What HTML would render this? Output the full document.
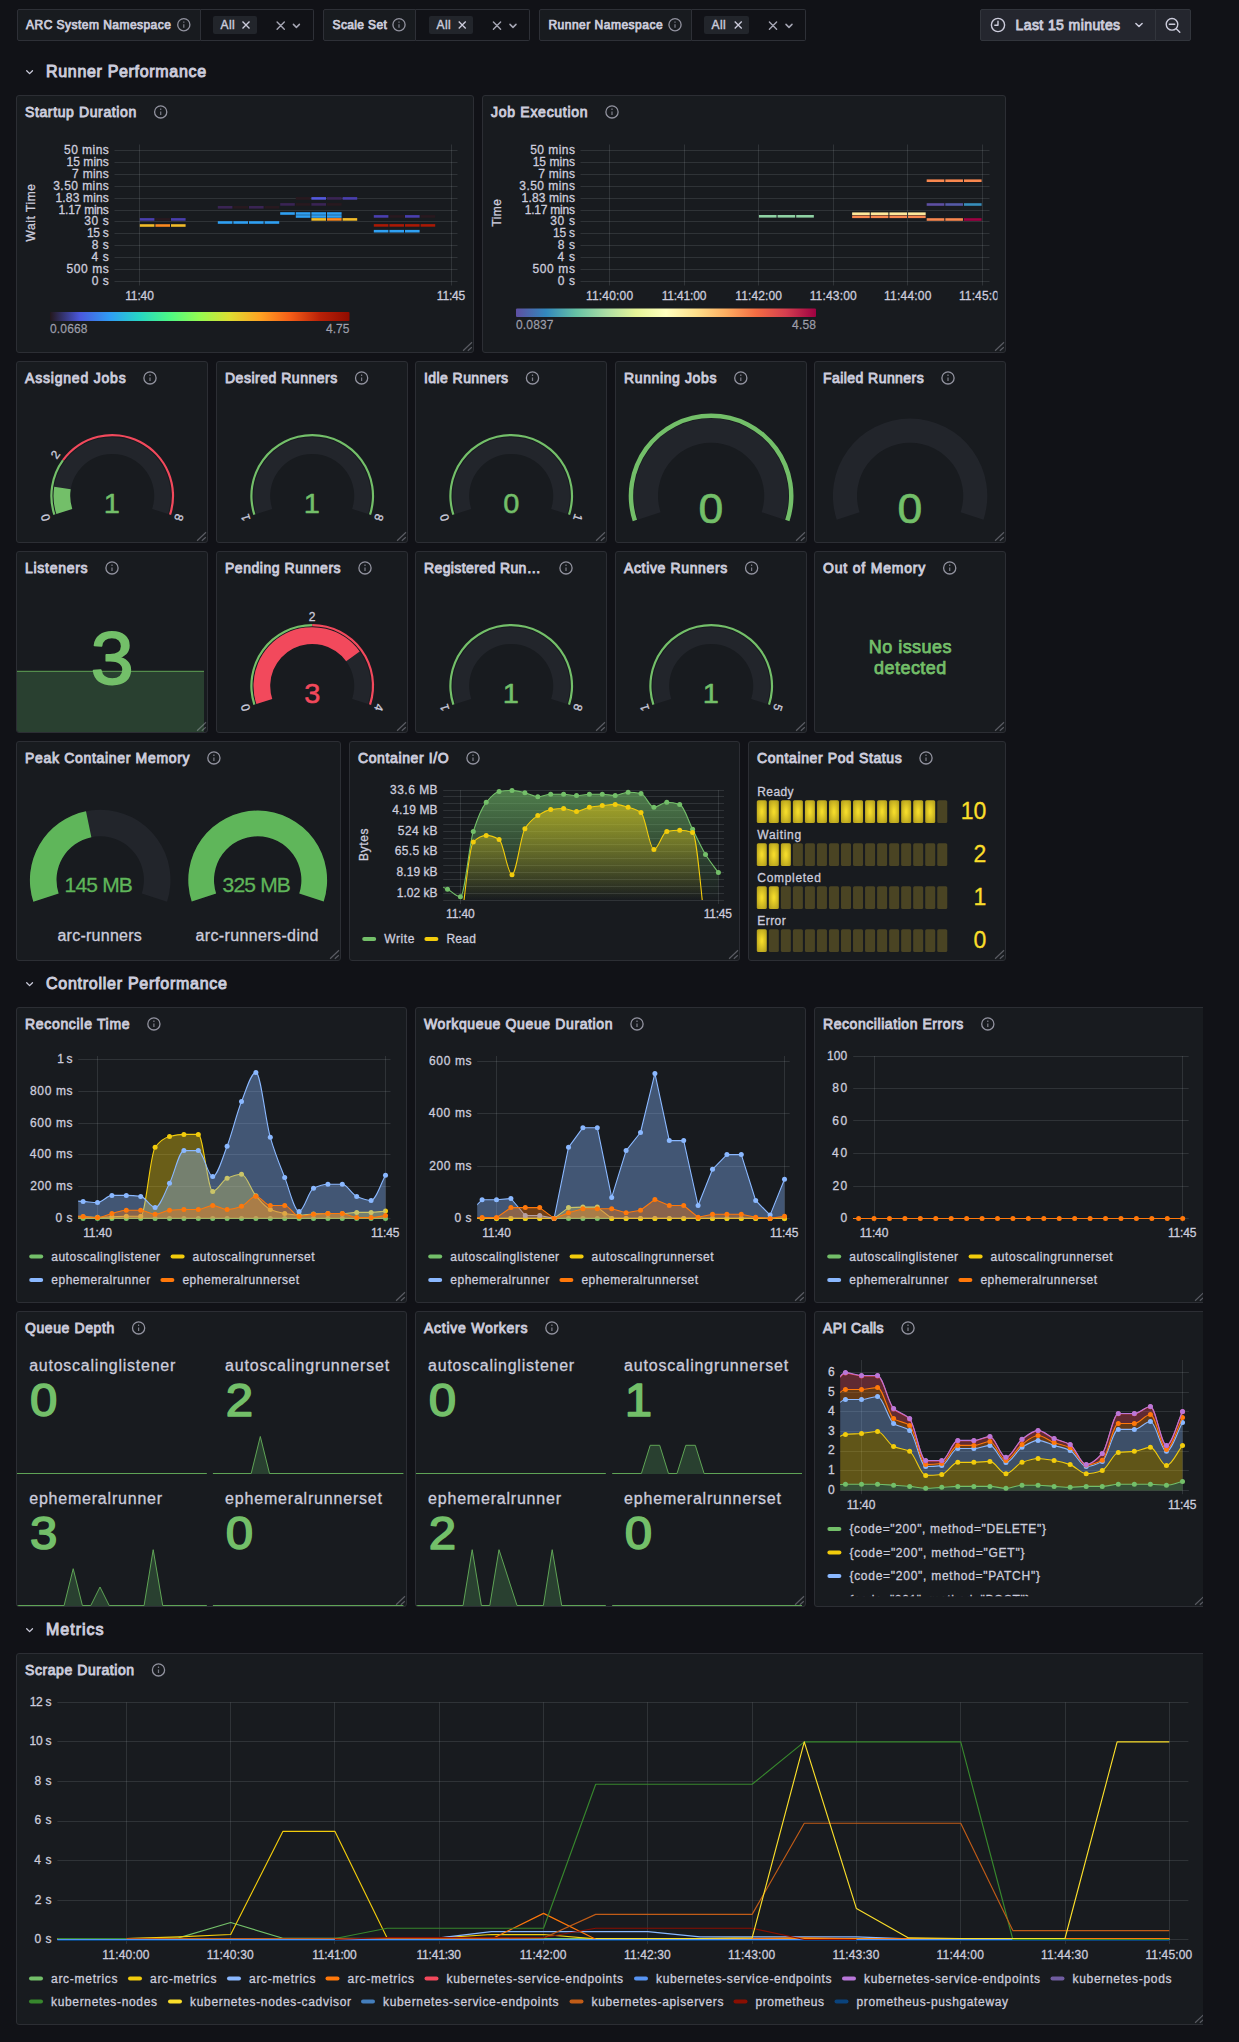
<!DOCTYPE html>
<html lang="en"><head><meta charset="utf-8"><title>ARC Autoscaling Runner Scale Set Monitoring</title>
<style>
*{box-sizing:border-box}
html,body{margin:0;padding:0}
body{background:#111217;width:1239px;height:2042px;overflow:hidden;position:relative;
 font-family:"Liberation Sans",sans-serif;font-size:12px;color:rgb(204,204,220)}
#wrap{position:absolute;left:0;top:0;width:1203px;height:2042px;overflow:hidden}
.panel{position:absolute;background:#181b1f;border:1px solid #2c2e34;border-radius:3px;overflow:hidden}
.pt{position:absolute;left:8px;top:7px;height:18px;line-height:18px;font-size:14px;font-weight:400;-webkit-text-stroke:0.85px rgb(204,204,220);white-space:nowrap;color:rgb(204,204,220)}
.viz{position:absolute;left:-1px;top:-1px;overflow:hidden}
.viz text{font-family:"Liberation Sans",sans-serif;font-size:12px;fill:rgb(204,204,220);stroke:rgb(204,204,220);stroke-width:0.3px}
.row{position:absolute;left:46px;height:30px;line-height:30px;font-size:16px;font-weight:400;-webkit-text-stroke:0.95px rgb(204,204,220);white-space:nowrap}
.chev{position:absolute;left:24px}
.var{position:absolute;top:9px;height:32px;display:flex}
.vl{height:32px;border:1px solid #2e3037;background:#181b1f;border-radius:2px 0 0 2px;font-weight:400;-webkit-text-stroke:0.75px rgb(204,204,220);font-size:12px;line-height:30px;padding-left:9px;white-space:nowrap;position:relative}
.vs{height:32px;border:1px solid #2e3037;border-left:none;background:#111217;border-radius:0 2px 2px 0;position:relative}
.chip{position:absolute;top:6px;height:18px;background:#22252b;border-radius:2px;font-size:12px;line-height:18px;padding-left:7.6px;white-space:nowrap;letter-spacing:0.35px;-webkit-text-stroke:0.4px rgb(204,204,220)}
.tp{position:absolute;top:9px;height:32px;background:#24262e;border:1px solid #32353c;font-size:14px;font-weight:400;-webkit-text-stroke:0.85px rgb(204,204,220);line-height:30px;white-space:nowrap}
.msg{position:absolute;left:39.4px;top:85.4px;width:112px;text-align:center;font-size:18px;line-height:21px;color:#73BF69;-webkit-text-stroke:0.75px #73BF69}
svg{display:block}
</style></head>
<body>
<div id="wrap">
<div class="var" style="left:17px"><div class="vl" style="width:184px;padding-left:8.1px;letter-spacing:0.46px">ARC System Namespace<svg style="position:absolute;left:-1px;top:-1px" width="184" height="32" viewBox="17 9 184 32"><g fill="none" stroke="rgba(204,204,220,0.68)"><circle cx="183.8" cy="24.7" r="6.1" stroke-width="1.3"/><path d="M183.8,24.3 v3.4 M183.8,21.4 v1.3" stroke-width="1.25" stroke="rgba(204,204,220,0.55)"/></g></svg></div><div class="vs" style="width:113px"><div class="chip" style="left:12px;width:43.8px">All</div><svg style="position:absolute;left:0;top:-1px" width="113" height="32" viewBox="201 9 113 32"><path d="M242.5,21.55 l7,7 M249.5,21.55 l-7,7" fill="none" stroke="rgb(204,204,220)" stroke-width="1.35" stroke-linecap="butt"/><path d="M277.1,22.1 l7.2,7.2 M284.3,22.1 l-7.2,7.2" fill="none" stroke="rgba(204,204,220,0.8)" stroke-width="1.4" stroke-linecap="round"/><path d="M293.4,24.4 l3,3 l3,-3" fill="none" stroke="rgba(204,204,220,0.8)" stroke-width="1.5" stroke-linecap="round" stroke-linejoin="round"/></svg></div></div>
<div class="var" style="left:323px"><div class="vl" style="width:93px;padding-left:8.6px;letter-spacing:0.35px">Scale Set<svg style="position:absolute;left:-1px;top:-1px" width="93" height="32" viewBox="323 9 93 32"><g fill="none" stroke="rgba(204,204,220,0.68)"><circle cx="399" cy="24.7" r="6.1" stroke-width="1.3"/><path d="M399,24.3 v3.4 M399,21.4 v1.3" stroke-width="1.25" stroke="rgba(204,204,220,0.55)"/></g></svg></div><div class="vs" style="width:114px"><div class="chip" style="left:13px;width:44px">All</div><svg style="position:absolute;left:0;top:-1px" width="114" height="32" viewBox="416 9 114 32"><path d="M458.7,21.55 l7,7 M465.7,21.55 l-7,7" fill="none" stroke="rgb(204,204,220)" stroke-width="1.35" stroke-linecap="butt"/><path d="M493.4,22.1 l7.2,7.2 M500.6,22.1 l-7.2,7.2" fill="none" stroke="rgba(204,204,220,0.8)" stroke-width="1.4" stroke-linecap="round"/><path d="M510,24.4 l3,3 l3,-3" fill="none" stroke="rgba(204,204,220,0.8)" stroke-width="1.5" stroke-linecap="round" stroke-linejoin="round"/></svg></div></div>
<div class="var" style="left:539px"><div class="vl" style="width:153px;padding-left:8.4px;letter-spacing:0.5px">Runner Namespace<svg style="position:absolute;left:-1px;top:-1px" width="153" height="32" viewBox="539 9 153 32"><g fill="none" stroke="rgba(204,204,220,0.68)"><circle cx="675" cy="24.7" r="6.1" stroke-width="1.3"/><path d="M675,24.3 v3.4 M675,21.4 v1.3" stroke-width="1.25" stroke="rgba(204,204,220,0.55)"/></g></svg></div><div class="vs" style="width:114px"><div class="chip" style="left:12px;width:45px">All</div><svg style="position:absolute;left:0;top:-1px" width="114" height="32" viewBox="692 9 114 32"><path d="M734.7,21.55 l7,7 M741.7,21.55 l-7,7" fill="none" stroke="rgb(204,204,220)" stroke-width="1.35" stroke-linecap="butt"/><path d="M769.4,22.1 l7.2,7.2 M776.6,22.1 l-7.2,7.2" fill="none" stroke="rgba(204,204,220,0.8)" stroke-width="1.4" stroke-linecap="round"/><path d="M786,24.4 l3,3 l3,-3" fill="none" stroke="rgba(204,204,220,0.8)" stroke-width="1.5" stroke-linecap="round" stroke-linejoin="round"/></svg></div></div>
<div class="tp" style="left:980px;width:176px;border-radius:2px 0 0 2px;padding-left:34.5px;letter-spacing:0.41px">Last 15 minutes<svg style="position:absolute;left:-1px;top:-1px" width="176" height="32" viewBox="980 9 176 32"><g fill="none" stroke="rgb(204,204,220)" stroke-width="1.4" stroke-linecap="round" stroke-linejoin="round"><circle cx="998" cy="25" r="6.6"/><path d="M998,21.3 V25.3 H994.8"/></g><path d="M1135.9,23.45 l3.1,3.1 l3.1,-3.1" fill="none" stroke="rgb(204,204,220)" stroke-width="1.5" stroke-linecap="round" stroke-linejoin="round"/></svg></div><div class="tp" style="left:1155px;width:36px;border-radius:0 2px 2px 0"><svg style="position:absolute;left:-1px;top:-1px" width="36" height="32" viewBox="1155 9 36 32"><g fill="none" stroke="rgb(204,204,220)" stroke-width="1.4" stroke-linecap="round"><circle cx="1172" cy="24.3" r="5.8"/><path d="M1176.3,28.7 L1179.8,32.2 M1169.3,24.3 H1174.7"/></g></svg></div>
<div class="row" style="top:57px;letter-spacing:0.68px">Runner Performance</div><svg class="chev" style="top:57px" width="12" height="30" viewBox="24 57 12 30"><path d="M26.7,70.75 l2.9,2.9 l2.9,-2.9" fill="none" stroke="rgb(204,204,220)" stroke-width="1.3" stroke-linecap="round" stroke-linejoin="round"/></svg>
<div class="row" style="top:969px;letter-spacing:0.74px">Controller Performance</div><svg class="chev" style="top:969px" width="12" height="30" viewBox="24 969 12 30"><path d="M26.7,982.75 l2.9,2.9 l2.9,-2.9" fill="none" stroke="rgb(204,204,220)" stroke-width="1.3" stroke-linecap="round" stroke-linejoin="round"/></svg>
<div class="row" style="top:1615px;letter-spacing:0.99px">Metrics</div><svg class="chev" style="top:1615px" width="12" height="30" viewBox="24 1615 12 30"><path d="M26.7,1628.75 l2.9,2.9 l2.9,-2.9" fill="none" stroke="rgb(204,204,220)" stroke-width="1.3" stroke-linecap="round" stroke-linejoin="round"/></svg>
<div class="panel" style="left:16px;top:95px;width:458px;height:258px"><svg class="viz" width="458" height="258" viewBox="16 95 458 258"><defs><linearGradient id="gturbo" x1="0" x2="1" y1="0" y2="0"><stop offset="0" stop-color="#23171b"/><stop offset="0.1" stop-color="#4a58dd"/><stop offset="0.2" stop-color="#2f9df5"/><stop offset="0.3" stop-color="#27d7c4"/><stop offset="0.4" stop-color="#4df884"/><stop offset="0.5" stop-color="#95fb51"/><stop offset="0.6" stop-color="#dedd32"/><stop offset="0.7" stop-color="#ffa423"/><stop offset="0.8" stop-color="#f65f18"/><stop offset="0.9" stop-color="#ba2208"/><stop offset="1" stop-color="#900c00"/></linearGradient></defs><path d="M114.5,150.5H457.5M114.5,162.5H457.5M114.5,174.5H457.5M114.5,186.5H457.5M114.5,198.5H457.5M114.5,210.5H457.5M114.5,221.5H457.5M114.5,233.5H457.5M114.5,245.5H457.5M114.5,257.5H457.5M114.5,269.5H457.5M114.5,281.5H457.5" stroke="rgba(240,250,255,0.11)" stroke-width="1" fill="none"/><path d="M139.5,144.5V285.5M451.5,144.5V285.5" stroke="rgba(240,250,255,0.11)" stroke-width="1" fill="none"/><text x="108.8" y="154" text-anchor="end" textLength="44.76" lengthAdjust="spacing">50 mins</text><text x="108.8" y="165.9" text-anchor="end" textLength="42.24" lengthAdjust="spacing">15 mins</text><text x="108.8" y="177.81" text-anchor="end" textLength="36.72" lengthAdjust="spacing">7 mins</text><text x="108.8" y="189.71" text-anchor="end" textLength="55.56" lengthAdjust="spacing">3.50 mins</text><text x="108.8" y="201.62" text-anchor="end" textLength="53.28" lengthAdjust="spacing">1.83 mins</text><text x="108.8" y="213.52" text-anchor="end" textLength="50.2" lengthAdjust="spacing">1.17 mins</text><text x="108.8" y="225.43" text-anchor="end" textLength="24.6" lengthAdjust="spacing">30 s</text><text x="108.8" y="237.33" text-anchor="end" textLength="21.89" lengthAdjust="spacing">15 s</text><text x="108.8" y="249.24" text-anchor="end" textLength="17.04" lengthAdjust="spacing">8 s</text><text x="108.8" y="261.14" text-anchor="end" textLength="17.28" lengthAdjust="spacing">4 s</text><text x="108.8" y="273.05" text-anchor="end" textLength="42.36" lengthAdjust="spacing">500 ms</text><text x="108.8" y="284.95" text-anchor="end" textLength="17.16" lengthAdjust="spacing">0 s</text><text x="31" y="217" text-anchor="middle" textLength="57.5" lengthAdjust="spacing" transform="rotate(-90 31 212.7)">Wait Time</text><text x="139.5" y="299.9" text-anchor="middle" textLength="28.68" lengthAdjust="spacing">11:40</text><text x="451" y="299.9" text-anchor="middle" textLength="28.32" lengthAdjust="spacing">11:45</text><rect x="139.8" y="218.1" width="14.6" height="2.6" fill="#4a3fae"/><rect x="155.4" y="218.1" width="14.6" height="2.6" fill="#28191f"/><rect x="171" y="218.1" width="14.6" height="2.6" fill="#4a3fae"/><rect x="139.8" y="224.2" width="14.6" height="2.6" fill="#f2bb29"/><rect x="155.4" y="224.2" width="14.6" height="2.6" fill="#fb881f"/><rect x="171" y="224.2" width="14.6" height="2.6" fill="#f2bb29"/><rect x="217.8" y="206" width="14.6" height="2.6" fill="#3a2454"/><rect x="233.4" y="206" width="14.6" height="2.6" fill="#28191f"/><rect x="249" y="206" width="14.6" height="2.6" fill="#3a2454"/><rect x="264.6" y="206" width="14.6" height="2.6" fill="#28191f"/><rect x="217.8" y="221.2" width="14.6" height="2.6" fill="#2fa0f3"/><rect x="233.4" y="221.2" width="14.6" height="2.6" fill="#2fa0f3"/><rect x="249" y="221.2" width="14.6" height="2.6" fill="#2fa0f3"/><rect x="264.6" y="221.2" width="14.6" height="2.6" fill="#2fa0f3"/><rect x="280.2" y="203.1" width="14.6" height="2.6" fill="#3a2454"/><rect x="295.8" y="203.1" width="14.6" height="2.6" fill="#28191f"/><rect x="311.4" y="203.1" width="14.6" height="2.6" fill="#3a2454"/><rect x="327" y="203.1" width="14.6" height="2.6" fill="#28191f"/><rect x="295.8" y="197.1" width="14.6" height="2.6" fill="#28191f"/><rect x="311.4" y="197.1" width="14.6" height="2.6" fill="#5459de"/><rect x="327" y="197.1" width="14.6" height="2.6" fill="#3a2454"/><rect x="342.6" y="197.1" width="14.6" height="2.6" fill="#4a3fae"/><rect x="280.2" y="212.2" width="14.6" height="2.6" fill="#2fa0f3"/><rect x="295.8" y="212.2" width="14.6" height="2.6" fill="#2fa0f3"/><rect x="311.4" y="212.2" width="14.6" height="2.6" fill="#2fa0f3"/><rect x="327" y="212.2" width="14.6" height="2.6" fill="#2fa0f3"/><rect x="295.8" y="215.2" width="14.6" height="2.6" fill="#2fa0f3"/><rect x="311.4" y="215.2" width="14.6" height="2.6" fill="#2fa0f3"/><rect x="327" y="215.2" width="14.6" height="2.6" fill="#2fa0f3"/><rect x="311.4" y="218.1" width="14.6" height="2.6" fill="#f2bb29"/><rect x="327" y="218.1" width="14.6" height="2.6" fill="#fb881f"/><rect x="342.6" y="218.1" width="14.6" height="2.6" fill="#f2bb29"/><rect x="373.8" y="215.1" width="14.6" height="2.6" fill="#4a3fae"/><rect x="389.4" y="215.1" width="14.6" height="2.6" fill="#28191f"/><rect x="405" y="215.1" width="14.6" height="2.6" fill="#4a3fae"/><rect x="420.6" y="215.1" width="14.6" height="2.6" fill="#28191f"/><rect x="373.8" y="224.1" width="14.6" height="2.6" fill="#a91905"/><rect x="389.4" y="224.1" width="14.6" height="2.6" fill="#a91905"/><rect x="405" y="224.1" width="14.6" height="2.6" fill="#a91905"/><rect x="420.6" y="224.1" width="14.6" height="2.6" fill="#a91905"/><rect x="373.8" y="229.9" width="14.6" height="2.6" fill="#2fa0f3"/><rect x="389.4" y="229.9" width="14.6" height="2.6" fill="#2fa0f3"/><rect x="405" y="229.9" width="14.6" height="2.6" fill="#2fa0f3"/><rect x="50" y="312" width="299.5" height="9" rx="1" fill="url(#gturbo)"/><text x="50" y="333.3" textLength="37.5" lengthAdjust="spacing" style="fill:rgba(204,204,220,0.65);stroke:rgba(204,204,220,0.65)">0.0668</text><text x="349.5" y="333.3" text-anchor="end" textLength="23.5" lengthAdjust="spacing" style="fill:rgba(204,204,220,0.65);stroke:rgba(204,204,220,0.65)">4.75</text><g fill="none" stroke="rgba(204,204,220,0.68)"><circle cx="160.7" cy="111.9" r="6.1" stroke-width="1.3"/><path d="M160.7,111.5 v3.4 M160.7,108.6 v1.3" stroke-width="1.25" stroke="rgba(204,204,220,0.55)"/></g><path d="M463.1,350.7 L472,342.3 M467.8,350.7 L471.8,347.3" stroke="rgba(204,204,220,0.36)" stroke-width="1.2" fill="none"/></svg><div class="pt" style="letter-spacing:0.62px">Startup Duration</div></div>
<div class="panel" style="left:482px;top:95px;width:524px;height:258px"><svg class="viz" width="524" height="258" viewBox="482 95 524 258"><defs><linearGradient id="gspec" x1="0" x2="1" y1="0" y2="0"><stop offset="0" stop-color="#5e4fa2"/><stop offset="0.1" stop-color="#3288bd"/><stop offset="0.2" stop-color="#66c2a5"/><stop offset="0.3" stop-color="#abdda4"/><stop offset="0.4" stop-color="#e6f598"/><stop offset="0.5" stop-color="#ffffbf"/><stop offset="0.6" stop-color="#fee08b"/><stop offset="0.7" stop-color="#fdae61"/><stop offset="0.8" stop-color="#f46d43"/><stop offset="0.9" stop-color="#d53e4f"/><stop offset="1" stop-color="#9e0142"/></linearGradient><clipPath id="c1"><rect x="483" y="96" width="514.5" height="256"/></clipPath></defs><path d="M580.5,150.5H989.5M580.5,162.5H989.5M580.5,174.5H989.5M580.5,186.5H989.5M580.5,198.5H989.5M580.5,210.5H989.5M580.5,221.5H989.5M580.5,233.5H989.5M580.5,245.5H989.5M580.5,257.5H989.5M580.5,269.5H989.5M580.5,281.5H989.5" stroke="rgba(240,250,255,0.11)" stroke-width="1" fill="none"/><path d="M609.5,144.5V285.5M684.5,144.5V285.5M758.5,144.5V285.5M833.5,144.5V285.5M907.5,144.5V285.5M982.5,144.5V285.5" stroke="rgba(240,250,255,0.11)" stroke-width="1" fill="none"/><text x="574.9" y="154" text-anchor="end" textLength="44.76" lengthAdjust="spacing">50 mins</text><text x="574.9" y="165.9" text-anchor="end" textLength="42.24" lengthAdjust="spacing">15 mins</text><text x="574.9" y="177.81" text-anchor="end" textLength="36.72" lengthAdjust="spacing">7 mins</text><text x="574.9" y="189.71" text-anchor="end" textLength="55.56" lengthAdjust="spacing">3.50 mins</text><text x="574.9" y="201.62" text-anchor="end" textLength="53.28" lengthAdjust="spacing">1.83 mins</text><text x="574.9" y="213.52" text-anchor="end" textLength="50.2" lengthAdjust="spacing">1.17 mins</text><text x="574.9" y="225.43" text-anchor="end" textLength="24.6" lengthAdjust="spacing">30 s</text><text x="574.9" y="237.33" text-anchor="end" textLength="21.89" lengthAdjust="spacing">15 s</text><text x="574.9" y="249.24" text-anchor="end" textLength="17.04" lengthAdjust="spacing">8 s</text><text x="574.9" y="261.14" text-anchor="end" textLength="17.28" lengthAdjust="spacing">4 s</text><text x="574.9" y="273.05" text-anchor="end" textLength="42.36" lengthAdjust="spacing">500 ms</text><text x="574.9" y="284.95" text-anchor="end" textLength="17.16" lengthAdjust="spacing">0 s</text><text x="496.8" y="217.1" text-anchor="middle" textLength="27.5" lengthAdjust="spacing" transform="rotate(-90 496.8 212.8)">Time</text><g clip-path="url(#c1)"><text x="609.5" y="299.9" text-anchor="middle" textLength="47.16" lengthAdjust="spacing">11:40:00</text><text x="684.06" y="299.9" text-anchor="middle" textLength="44.64" lengthAdjust="spacing">11:41:00</text><text x="758.62" y="299.9" text-anchor="middle" textLength="46.8" lengthAdjust="spacing">11:42:00</text><text x="833.18" y="299.9" text-anchor="middle" textLength="47.04" lengthAdjust="spacing">11:43:00</text><text x="907.74" y="299.9" text-anchor="middle" textLength="47.28" lengthAdjust="spacing">11:44:00</text><text x="982.3" y="299.9" text-anchor="middle" textLength="46.8" lengthAdjust="spacing">11:45:00</text></g><rect x="758.92" y="215" width="17.64" height="2.6" fill="#8fd2a4"/><rect x="777.56" y="215" width="17.64" height="2.6" fill="#8fd2a4"/><rect x="796.2" y="215" width="17.64" height="2.6" fill="#8fd2a4"/><rect x="852.12" y="212.4" width="17.64" height="2.6" fill="#fee99b"/><rect x="870.76" y="212.4" width="17.64" height="2.6" fill="#fee99b"/><rect x="889.4" y="212.4" width="17.64" height="2.6" fill="#fee99b"/><rect x="908.04" y="212.4" width="17.64" height="2.6" fill="#fee99b"/><rect x="852.12" y="215.5" width="17.64" height="2.6" fill="#f8874f"/><rect x="870.76" y="215.5" width="17.64" height="2.6" fill="#f8874f"/><rect x="889.4" y="215.5" width="17.64" height="2.6" fill="#f8874f"/><rect x="908.04" y="215.5" width="17.64" height="2.6" fill="#f8874f"/><rect x="926.68" y="179.4" width="17.64" height="2.6" fill="#f8874f"/><rect x="945.32" y="179.4" width="17.64" height="2.6" fill="#f8874f"/><rect x="963.96" y="179.4" width="17.64" height="2.6" fill="#f8874f"/><rect x="926.68" y="203.2" width="17.64" height="2.6" fill="#5e4fa2"/><rect x="945.32" y="203.2" width="17.64" height="2.6" fill="#555aa7"/><rect x="963.96" y="203.2" width="17.64" height="2.6" fill="#378ebb"/><rect x="926.68" y="218.2" width="17.64" height="2.6" fill="#f8874f"/><rect x="945.32" y="218.2" width="17.64" height="2.6" fill="#f8874f"/><rect x="963.96" y="218.2" width="17.64" height="2.6" fill="#9e0142"/><rect x="516" y="308.5" width="300" height="8.5" rx="1" fill="url(#gspec)"/><text x="516" y="329.3" textLength="37.5" lengthAdjust="spacing" style="fill:rgba(204,204,220,0.65);stroke:rgba(204,204,220,0.65)">0.0837</text><text x="816" y="329.3" text-anchor="end" textLength="24" lengthAdjust="spacing" style="fill:rgba(204,204,220,0.65);stroke:rgba(204,204,220,0.65)">4.58</text><g fill="none" stroke="rgba(204,204,220,0.68)"><circle cx="612" cy="111.9" r="6.1" stroke-width="1.3"/><path d="M612,111.5 v3.4 M612,108.6 v1.3" stroke-width="1.25" stroke="rgba(204,204,220,0.55)"/></g><path d="M995.1,350.7 L1004,342.3 M999.8,350.7 L1003.8,347.3" stroke="rgba(204,204,220,0.36)" stroke-width="1.2" fill="none"/></svg><div class="pt" style="letter-spacing:0.72px">Job Execution</div></div>
<div class="panel" style="left:16px;top:361px;width:192px;height:182px"><svg class="viz" width="192" height="182" viewBox="16 361 192 182"><path d="M56.37,514.04 A58.7,58.7 0 1 1 168.03,514.04 L152.14,508.88 A42,42 0 1 0 72.26,508.88 Z" fill="#22252b"/><path d="M56.37,514.04 A58.7,58.7 0 0 1 54.22,486.72 L70.72,489.33 A42,42 0 0 0 72.26,508.88 Z" fill="#73BF69"/><path d="M53.33,515.03 A61.9,61.9 0 0 1 62.12,459.52 L63.9,460.81 A59.7,59.7 0 0 0 55.42,514.35 Z" fill="#73BF69"/><path d="M62.12,459.52 A61.9,61.9 0 0 1 171.07,515.03 L168.98,514.35 A59.7,59.7 0 0 0 63.9,460.81 Z" fill="#F2495C"/><text x="45.34" y="521.92" text-anchor="middle" transform="rotate(252 45.34 517.62)">0</text><text x="55.33" y="458.87" text-anchor="middle" transform="rotate(306 55.33 454.58)">2</text><text x="179.06" y="521.92" text-anchor="middle" transform="rotate(468 179.06 517.62)">8</text><text transform="translate(103.76 512.8) scale(1.0500 1)" style="font-size:27.6px;fill:#73BF69;stroke:#73BF69;stroke-width:0.5px;stroke-linejoin:round">1</text><g fill="none" stroke="rgba(204,204,220,0.68)"><circle cx="150" cy="377.9" r="6.1" stroke-width="1.3"/><path d="M150,377.5 v3.4 M150,374.6 v1.3" stroke-width="1.25" stroke="rgba(204,204,220,0.55)"/></g><path d="M197.1,540.7 L206,532.3 M201.8,540.7 L205.8,537.3" stroke="rgba(204,204,220,0.36)" stroke-width="1.2" fill="none"/></svg><div class="pt" style="letter-spacing:0.8px">Assigned Jobs</div></div>
<div class="panel" style="left:216px;top:361px;width:192px;height:182px"><svg class="viz" width="192" height="182" viewBox="216 361 192 182"><path d="M256.37,514.04 A58.7,58.7 0 1 1 368.03,514.04 L352.14,508.88 A42,42 0 1 0 272.26,508.88 Z" fill="#22252b"/><path d="M253.33,515.03 A61.9,61.9 0 1 1 371.07,515.03 L368.98,514.35 A59.7,59.7 0 1 0 255.42,514.35 Z" fill="#73BF69"/><text x="245.34" y="521.92" text-anchor="middle" transform="rotate(252 245.34 517.62)">1</text><text x="379.06" y="521.92" text-anchor="middle" transform="rotate(468 379.06 517.62)">8</text><text transform="translate(303.76 512.8) scale(1.0500 1)" style="font-size:27.6px;fill:#73BF69;stroke:#73BF69;stroke-width:0.5px;stroke-linejoin:round">1</text><g fill="none" stroke="rgba(204,204,220,0.68)"><circle cx="361.6" cy="377.9" r="6.1" stroke-width="1.3"/><path d="M361.6,377.5 v3.4 M361.6,374.6 v1.3" stroke-width="1.25" stroke="rgba(204,204,220,0.55)"/></g><path d="M397.1,540.7 L406,532.3 M401.8,540.7 L405.8,537.3" stroke="rgba(204,204,220,0.36)" stroke-width="1.2" fill="none"/></svg><div class="pt" style="letter-spacing:0.51px">Desired Runners</div></div>
<div class="panel" style="left:415px;top:361px;width:192px;height:182px"><svg class="viz" width="192" height="182" viewBox="415 361 192 182"><path d="M455.37,514.04 A58.7,58.7 0 1 1 567.03,514.04 L551.14,508.88 A42,42 0 1 0 471.26,508.88 Z" fill="#22252b"/><path d="M452.33,515.03 A61.9,61.9 0 1 1 570.07,515.03 L567.98,514.35 A59.7,59.7 0 1 0 454.42,514.35 Z" fill="#73BF69"/><text x="444.34" y="521.92" text-anchor="middle" transform="rotate(252 444.34 517.62)">0</text><text x="578.06" y="521.92" text-anchor="middle" transform="rotate(468 578.06 517.62)">1</text><text transform="translate(503.16 512.8) scale(1.0500 1)" style="font-size:27.6px;fill:#73BF69;stroke:#73BF69;stroke-width:0.5px;stroke-linejoin:round">0</text><g fill="none" stroke="rgba(204,204,220,0.68)"><circle cx="532.5" cy="377.9" r="6.1" stroke-width="1.3"/><path d="M532.5,377.5 v3.4 M532.5,374.6 v1.3" stroke-width="1.25" stroke="rgba(204,204,220,0.55)"/></g><path d="M596.1,540.7 L605,532.3 M600.8,540.7 L604.8,537.3" stroke="rgba(204,204,220,0.36)" stroke-width="1.2" fill="none"/></svg><div class="pt" style="letter-spacing:0.43px">Idle Runners</div></div>
<div class="panel" style="left:615px;top:361px;width:192px;height:182px"><svg class="viz" width="192" height="182" viewBox="615 361 192 182"><path d="M637.68,519.66 A77.2,77.2 0 1 1 784.52,519.66 L761.6,512.21 A53.1,53.1 0 1 0 660.6,512.21 Z" fill="#22252b"/><path d="M632.73,521.26 A82.4,82.4 0 1 1 789.47,521.26 L785.19,519.87 A77.9,77.9 0 1 0 637.01,519.87 Z" fill="#73BF69"/><text transform="translate(698.45 522.6) scale(1.0400 1)" style="font-size:42.8px;fill:#73BF69;stroke:#73BF69;stroke-width:0.7px;stroke-linejoin:round">0</text><g fill="none" stroke="rgba(204,204,220,0.68)"><circle cx="740.8" cy="377.9" r="6.1" stroke-width="1.3"/><path d="M740.8,377.5 v3.4 M740.8,374.6 v1.3" stroke-width="1.25" stroke="rgba(204,204,220,0.55)"/></g><path d="M796.1,540.7 L805,532.3 M800.8,540.7 L804.8,537.3" stroke="rgba(204,204,220,0.36)" stroke-width="1.2" fill="none"/></svg><div class="pt" style="letter-spacing:0.62px">Running Jobs</div></div>
<div class="panel" style="left:814px;top:361px;width:192px;height:182px"><svg class="viz" width="192" height="182" viewBox="814 361 192 182"><path d="M836.68,519.66 A77.2,77.2 0 1 1 983.52,519.66 L960.6,512.21 A53.1,53.1 0 1 0 859.6,512.21 Z" fill="#22252b"/><text transform="translate(897.45 522.6) scale(1.0400 1)" style="font-size:42.8px;fill:#73BF69;stroke:#73BF69;stroke-width:0.7px;stroke-linejoin:round">0</text><g fill="none" stroke="rgba(204,204,220,0.68)"><circle cx="948" cy="377.9" r="6.1" stroke-width="1.3"/><path d="M948,377.5 v3.4 M948,374.6 v1.3" stroke-width="1.25" stroke="rgba(204,204,220,0.55)"/></g><path d="M995.1,540.7 L1004,532.3 M999.8,540.7 L1003.8,537.3" stroke="rgba(204,204,220,0.36)" stroke-width="1.2" fill="none"/></svg><div class="pt" style="letter-spacing:0.44px">Failed Runners</div></div>
<div class="panel" style="left:16px;top:551px;width:192px;height:182px"><svg class="viz" width="192" height="182" viewBox="16 551 192 182"><rect x="16" y="671.3" width="188" height="62" fill="#294030"/><path d="M16,671.3H204" stroke="#5fa456" stroke-width="1" fill="none"/><text transform="translate(90.67 684.2) scale(1.0298 1)" style="font-size:74.84px;fill:#73BF69;stroke:#73BF69;stroke-width:1.8px;stroke-linejoin:round">3</text><g fill="none" stroke="rgba(204,204,220,0.68)"><circle cx="112" cy="567.9" r="6.1" stroke-width="1.3"/><path d="M112,567.5 v3.4 M112,564.6 v1.3" stroke-width="1.25" stroke="rgba(204,204,220,0.55)"/></g><path d="M197.1,730.7 L206,722.3 M201.8,730.7 L205.8,727.3" stroke="rgba(204,204,220,0.36)" stroke-width="1.2" fill="none"/></svg><div class="pt" style="letter-spacing:0.72px">Listeners</div></div>
<div class="panel" style="left:216px;top:551px;width:192px;height:182px"><svg class="viz" width="192" height="182" viewBox="216 551 192 182"><path d="M256.37,704.04 A58.7,58.7 0 1 1 368.03,704.04 L352.14,698.88 A42,42 0 1 0 272.26,698.88 Z" fill="#22252b"/><path d="M256.37,704.04 A58.7,58.7 0 0 1 359.69,651.4 L346.18,661.21 A42,42 0 0 0 272.26,698.88 Z" fill="#F2495C"/><path d="M253.33,705.03 A61.9,61.9 0 0 1 312.2,624 L312.2,626.2 A59.7,59.7 0 0 0 255.42,704.35 Z" fill="#73BF69"/><path d="M312.2,624 A61.9,61.9 0 0 1 371.07,705.03 L368.98,704.35 A59.7,59.7 0 0 0 312.2,626.2 Z" fill="#F2495C"/><text x="245.34" y="711.92" text-anchor="middle" transform="rotate(252 245.34 707.62)">0</text><text x="312.2" y="620.8" text-anchor="middle" transform="rotate(360 312.2 616.5)">2</text><text x="379.06" y="711.92" text-anchor="middle" transform="rotate(468 379.06 707.62)">4</text><text transform="translate(304.23 702.8) scale(1.0500 1)" style="font-size:27.6px;fill:#F2495C;stroke:#F2495C;stroke-width:0.5px;stroke-linejoin:round">3</text><g fill="none" stroke="rgba(204,204,220,0.68)"><circle cx="365" cy="567.9" r="6.1" stroke-width="1.3"/><path d="M365,567.5 v3.4 M365,564.6 v1.3" stroke-width="1.25" stroke="rgba(204,204,220,0.55)"/></g><path d="M397.1,730.7 L406,722.3 M401.8,730.7 L405.8,727.3" stroke="rgba(204,204,220,0.36)" stroke-width="1.2" fill="none"/></svg><div class="pt" style="letter-spacing:0.53px">Pending Runners</div></div>
<div class="panel" style="left:415px;top:551px;width:192px;height:182px"><svg class="viz" width="192" height="182" viewBox="415 551 192 182"><path d="M455.37,704.04 A58.7,58.7 0 1 1 567.03,704.04 L551.14,698.88 A42,42 0 1 0 471.26,698.88 Z" fill="#22252b"/><path d="M452.33,705.03 A61.9,61.9 0 1 1 570.07,705.03 L567.98,704.35 A59.7,59.7 0 1 0 454.42,704.35 Z" fill="#73BF69"/><text x="444.34" y="711.92" text-anchor="middle" transform="rotate(252 444.34 707.62)">1</text><text x="578.06" y="711.92" text-anchor="middle" transform="rotate(468 578.06 707.62)">8</text><text transform="translate(502.76 702.8) scale(1.0500 1)" style="font-size:27.6px;fill:#73BF69;stroke:#73BF69;stroke-width:0.5px;stroke-linejoin:round">1</text><g fill="none" stroke="rgba(204,204,220,0.68)"><circle cx="566" cy="567.9" r="6.1" stroke-width="1.3"/><path d="M566,567.5 v3.4 M566,564.6 v1.3" stroke-width="1.25" stroke="rgba(204,204,220,0.55)"/></g><path d="M596.1,730.7 L605,722.3 M600.8,730.7 L604.8,727.3" stroke="rgba(204,204,220,0.36)" stroke-width="1.2" fill="none"/></svg><div class="pt" style="letter-spacing:0.39px;width:119.6px;overflow:hidden;text-overflow:ellipsis">Registered Runners</div></div>
<div class="panel" style="left:615px;top:551px;width:192px;height:182px"><svg class="viz" width="192" height="182" viewBox="615 551 192 182"><path d="M655.37,704.04 A58.7,58.7 0 1 1 767.03,704.04 L751.14,698.88 A42,42 0 1 0 671.26,698.88 Z" fill="#22252b"/><path d="M652.33,705.03 A61.9,61.9 0 1 1 770.07,705.03 L767.98,704.35 A59.7,59.7 0 1 0 654.42,704.35 Z" fill="#73BF69"/><text x="644.34" y="711.92" text-anchor="middle" transform="rotate(252 644.34 707.62)">1</text><text x="778.06" y="711.92" text-anchor="middle" transform="rotate(468 778.06 707.62)">5</text><text transform="translate(702.76 702.8) scale(1.0500 1)" style="font-size:27.6px;fill:#73BF69;stroke:#73BF69;stroke-width:0.5px;stroke-linejoin:round">1</text><g fill="none" stroke="rgba(204,204,220,0.68)"><circle cx="751.6" cy="567.9" r="6.1" stroke-width="1.3"/><path d="M751.6,567.5 v3.4 M751.6,564.6 v1.3" stroke-width="1.25" stroke="rgba(204,204,220,0.55)"/></g><path d="M796.1,730.7 L805,722.3 M800.8,730.7 L804.8,727.3" stroke="rgba(204,204,220,0.36)" stroke-width="1.2" fill="none"/></svg><div class="pt" style="letter-spacing:0.64px">Active Runners</div></div>
<div class="panel" style="left:814px;top:551px;width:192px;height:182px"><svg class="viz" width="192" height="182" viewBox="814 551 192 182"><g fill="none" stroke="rgba(204,204,220,0.68)"><circle cx="949.7" cy="567.9" r="6.1" stroke-width="1.3"/><path d="M949.7,567.5 v3.4 M949.7,564.6 v1.3" stroke-width="1.25" stroke="rgba(204,204,220,0.55)"/></g><path d="M995.1,730.7 L1004,722.3 M999.8,730.7 L1003.8,727.3" stroke="rgba(204,204,220,0.36)" stroke-width="1.2" fill="none"/></svg><div class="pt" style="letter-spacing:0.81px">Out of Memory</div><div class="msg" style="letter-spacing:0.47px">No issues detected</div></div>
<div class="panel" style="left:16px;top:741px;width:325px;height:220px"><svg class="viz" width="325" height="220" viewBox="16 741 325 220"><path d="M33.34,901.72 A70.3,70.3 0 1 1 167.06,901.72 L141.76,893.5 A43.7,43.7 0 1 0 58.64,893.5 Z" fill="#22252b"/><path d="M33.34,901.72 A70.3,70.3 0 0 1 85.99,811.15 L91.37,837.2 A43.7,43.7 0 0 0 58.64,893.5 Z" fill="#5fb65a"/><text x="98.7" y="892.32" text-anchor="middle" textLength="68.2" lengthAdjust="spacing" style="fill:#5fb65a;stroke:#5fb65a;font-size:21px">145 MB</text><path d="M191.7,901.45 A69.4,69.4 0 1 1 323.7,901.45 L299.26,893.5 A43.7,43.7 0 1 0 216.14,893.5 Z" fill="#22252b"/><path d="M191.7,901.45 A69.4,69.4 0 1 1 323.7,901.45 L299.26,893.5 A43.7,43.7 0 1 0 216.14,893.5 Z" fill="#5fb65a"/><text x="256.7" y="892.32" text-anchor="middle" textLength="68.2" lengthAdjust="spacing" style="fill:#5fb65a;stroke:#5fb65a;font-size:21px">325 MB</text><text x="99.6" y="941.03" text-anchor="middle" textLength="84.4" lengthAdjust="spacing" style="font-size:16px">arc-runners</text><text x="257" y="941.03" text-anchor="middle" textLength="123" lengthAdjust="spacing" style="font-size:16px">arc-runners-dind</text><g fill="none" stroke="rgba(204,204,220,0.68)"><circle cx="213.9" cy="757.9" r="6.1" stroke-width="1.3"/><path d="M213.9,757.5 v3.4 M213.9,754.6 v1.3" stroke-width="1.25" stroke="rgba(204,204,220,0.55)"/></g><path d="M330.1,958.7 L339,950.3 M334.8,958.7 L338.8,955.3" stroke="rgba(204,204,220,0.36)" stroke-width="1.2" fill="none"/></svg><div class="pt" style="letter-spacing:0.68px">Peak Container Memory</div></div>
<div class="panel" style="left:349px;top:741px;width:391px;height:220px"><svg class="viz" width="391" height="220" viewBox="349 741 391 220"><defs><clipPath id="c2"><rect x="443.2" y="786" width="280.8" height="114"/></clipPath><linearGradient id="gio1" gradientUnits="userSpaceOnUse" x1="0" x2="0" y1="790" y2="900"><stop offset="0" stop-color="#73BF69" stop-opacity="0.6"/><stop offset="1" stop-color="#73BF69" stop-opacity="0"/></linearGradient><linearGradient id="gio2" gradientUnits="userSpaceOnUse" x1="0" x2="0" y1="790" y2="900"><stop offset="0" stop-color="#F2CC0C" stop-opacity="0.6"/><stop offset="1" stop-color="#F2CC0C" stop-opacity="0"/></linearGradient></defs><path d="M443.2,790.5H724M443.2,796.5H724M443.2,803.5H724M443.2,810.5H724M443.2,817.5H724M443.2,824.5H724M443.2,831.5H724M443.2,838.5H724M443.2,844.5H724M443.2,851.5H724M443.2,858.5H724M443.2,865.5H724M443.2,872.5H724M443.2,879.5H724M443.2,886.5H724M443.2,893.5H724M443.2,900.5H724" stroke="rgba(240,250,255,0.11)" stroke-width="1" fill="none"/><path d="M460.5,790V904M718.5,790V904" stroke="rgba(240,250,255,0.11)" stroke-width="1" fill="none"/><text x="437.6" y="793.6" text-anchor="end" textLength="47.52" lengthAdjust="spacing">33.6 MB</text><text x="437.6" y="814.22" text-anchor="end" textLength="45.36" lengthAdjust="spacing">4.19 MB</text><text x="437.6" y="834.85" text-anchor="end" textLength="39.84" lengthAdjust="spacing">524 kB</text><text x="437.6" y="855.47" text-anchor="end" textLength="42.96" lengthAdjust="spacing">65.5 kB</text><text x="437.6" y="876.1" text-anchor="end" textLength="41.04" lengthAdjust="spacing">8.19 kB</text><text x="437.6" y="896.72" text-anchor="end" textLength="40.92" lengthAdjust="spacing">1.02 kB</text><text x="460.4" y="918.1" text-anchor="middle" textLength="28.68" lengthAdjust="spacing">11:40</text><text x="717.8" y="918.1" text-anchor="middle" textLength="28.32" lengthAdjust="spacing">11:45</text><text x="363.6" y="849.1" text-anchor="middle" textLength="32.5" lengthAdjust="spacing" transform="rotate(-90 363.6 844.8)">Bytes</text><g clip-path="url(#c2)"><path d="M434.6,884C438.9,885.73 443.2,887.14 447.5,889.2C451.8,891.26 456.1,896.8 460.4,896.8C464.7,896.8 469,844.83 473.3,831.4C477.6,817.97 481.9,807.55 486.2,802.3C490.5,797.05 494.8,792.17 499.1,791.5C503.4,790.83 507.7,790.4 512,790.4C516.3,790.4 520.6,791.73 524.9,792.7C529.2,793.67 533.5,796.7 537.8,796.7C542.1,796.7 546.4,794.3 550.7,794.3C555,794.3 559.3,794.3 563.6,794.3C567.9,794.3 572.2,795.6 576.5,795.6C580.8,795.6 585.1,794.3 589.4,794.3C593.7,794.3 598,794.3 602.3,794.3C606.6,794.3 610.9,795.4 615.2,795.4C619.5,795.4 623.8,792.3 628.1,792.3C632.4,792.3 636.7,792.76 641,793.5C645.3,794.24 649.6,807.3 653.9,807.3C658.2,807.3 662.5,802.3 666.8,802.3C671.1,802.3 675.4,803.11 679.7,804.4C684,805.69 688.3,820.95 692.6,829.3C696.9,837.65 701.2,847.48 705.5,854.5C709.8,861.52 714.1,866.57 718.4,872.6L718.4,900 L434.6,900 Z" fill="url(#gio1)"/><path d="M434.6,884C438.9,885.73 443.2,887.14 447.5,889.2C451.8,891.26 456.1,896.8 460.4,896.8C464.7,896.8 469,844.83 473.3,831.4C477.6,817.97 481.9,807.55 486.2,802.3C490.5,797.05 494.8,792.17 499.1,791.5C503.4,790.83 507.7,790.4 512,790.4C516.3,790.4 520.6,791.73 524.9,792.7C529.2,793.67 533.5,796.7 537.8,796.7C542.1,796.7 546.4,794.3 550.7,794.3C555,794.3 559.3,794.3 563.6,794.3C567.9,794.3 572.2,795.6 576.5,795.6C580.8,795.6 585.1,794.3 589.4,794.3C593.7,794.3 598,794.3 602.3,794.3C606.6,794.3 610.9,795.4 615.2,795.4C619.5,795.4 623.8,792.3 628.1,792.3C632.4,792.3 636.7,792.76 641,793.5C645.3,794.24 649.6,807.3 653.9,807.3C658.2,807.3 662.5,802.3 666.8,802.3C671.1,802.3 675.4,803.11 679.7,804.4C684,805.69 688.3,820.95 692.6,829.3C696.9,837.65 701.2,847.48 705.5,854.5C709.8,861.52 714.1,866.57 718.4,872.6" fill="none" stroke="#73BF69" stroke-width="1.1" stroke-linejoin="round"/><g fill="#73BF69"><circle cx="434.6" cy="884" r="2.5"/><circle cx="447.5" cy="889.2" r="2.5"/><circle cx="460.4" cy="896.8" r="2.5"/><circle cx="473.3" cy="831.4" r="2.5"/><circle cx="486.2" cy="802.3" r="2.5"/><circle cx="499.1" cy="791.5" r="2.5"/><circle cx="512" cy="790.4" r="2.5"/><circle cx="524.9" cy="792.7" r="2.5"/><circle cx="537.8" cy="796.7" r="2.5"/><circle cx="550.7" cy="794.3" r="2.5"/><circle cx="563.6" cy="794.3" r="2.5"/><circle cx="576.5" cy="795.6" r="2.5"/><circle cx="589.4" cy="794.3" r="2.5"/><circle cx="602.3" cy="794.3" r="2.5"/><circle cx="615.2" cy="795.4" r="2.5"/><circle cx="628.1" cy="792.3" r="2.5"/><circle cx="641" cy="793.5" r="2.5"/><circle cx="653.9" cy="807.3" r="2.5"/><circle cx="666.8" cy="802.3" r="2.5"/><circle cx="679.7" cy="804.4" r="2.5"/><circle cx="692.6" cy="829.3" r="2.5"/><circle cx="705.5" cy="854.5" r="2.5"/><circle cx="718.4" cy="872.6" r="2.5"/></g><path d="M460.4,929C464.7,899.97 469,845.93 473.3,841.9C477.6,837.87 481.9,835.4 486.2,835.4C490.5,835.4 494.8,837.05 499.1,839.5C503.4,841.95 507.7,874.7 512,874.7C516.3,874.7 520.6,835.5 524.9,828.7C529.2,821.9 533.5,818.34 537.8,815.6C542.1,812.86 546.4,810.22 550.7,809.6C555,808.98 559.3,808.5 563.6,808.5C567.9,808.5 572.2,811.5 576.5,811.5C580.8,811.5 585.1,808.11 589.4,807.3C593.7,806.49 598,806.07 602.3,805.6C606.6,805.13 610.9,804.4 615.2,804.4C619.5,804.4 623.8,806.06 628.1,807.3C632.4,808.54 636.7,809.46 641,812.5C645.3,815.54 649.6,849.6 653.9,849.6C658.2,849.6 662.5,832.09 666.8,831.4C671.1,830.71 675.4,830.3 679.7,830.3C684,830.3 688.3,831.07 692.6,832.5C696.9,833.93 701.2,896.83 705.5,929L705.5,900 L460.4,900 Z" fill="url(#gio2)"/><path d="M460.4,929C464.7,899.97 469,845.93 473.3,841.9C477.6,837.87 481.9,835.4 486.2,835.4C490.5,835.4 494.8,837.05 499.1,839.5C503.4,841.95 507.7,874.7 512,874.7C516.3,874.7 520.6,835.5 524.9,828.7C529.2,821.9 533.5,818.34 537.8,815.6C542.1,812.86 546.4,810.22 550.7,809.6C555,808.98 559.3,808.5 563.6,808.5C567.9,808.5 572.2,811.5 576.5,811.5C580.8,811.5 585.1,808.11 589.4,807.3C593.7,806.49 598,806.07 602.3,805.6C606.6,805.13 610.9,804.4 615.2,804.4C619.5,804.4 623.8,806.06 628.1,807.3C632.4,808.54 636.7,809.46 641,812.5C645.3,815.54 649.6,849.6 653.9,849.6C658.2,849.6 662.5,832.09 666.8,831.4C671.1,830.71 675.4,830.3 679.7,830.3C684,830.3 688.3,831.07 692.6,832.5C696.9,833.93 701.2,896.83 705.5,929" fill="none" stroke="#F2CC0C" stroke-width="1.1" stroke-linejoin="round"/><g fill="#F2CC0C"><circle cx="473.3" cy="841.9" r="2.5"/><circle cx="486.2" cy="835.4" r="2.5"/><circle cx="499.1" cy="839.5" r="2.5"/><circle cx="512" cy="874.7" r="2.5"/><circle cx="524.9" cy="828.7" r="2.5"/><circle cx="537.8" cy="815.6" r="2.5"/><circle cx="550.7" cy="809.6" r="2.5"/><circle cx="563.6" cy="808.5" r="2.5"/><circle cx="576.5" cy="811.5" r="2.5"/><circle cx="589.4" cy="807.3" r="2.5"/><circle cx="602.3" cy="805.6" r="2.5"/><circle cx="615.2" cy="804.4" r="2.5"/><circle cx="628.1" cy="807.3" r="2.5"/><circle cx="641" cy="812.5" r="2.5"/><circle cx="653.9" cy="849.6" r="2.5"/><circle cx="666.8" cy="831.4" r="2.5"/><circle cx="679.7" cy="830.3" r="2.5"/><circle cx="692.6" cy="832.5" r="2.5"/></g></g><rect x="362.2" y="936.9" width="14" height="4" rx="2" fill="#73BF69"/><text x="384.2" y="943.2" textLength="30.2" lengthAdjust="spacing">Write</text><rect x="424.4" y="936.9" width="14" height="4" rx="2" fill="#F2CC0C"/><text x="446.4" y="943.2" textLength="29.5" lengthAdjust="spacing">Read</text><g fill="none" stroke="rgba(204,204,220,0.68)"><circle cx="473" cy="757.9" r="6.1" stroke-width="1.3"/><path d="M473,757.5 v3.4 M473,754.6 v1.3" stroke-width="1.25" stroke="rgba(204,204,220,0.55)"/></g><path d="M729.1,958.7 L738,950.3 M733.8,958.7 L737.8,955.3" stroke="rgba(204,204,220,0.36)" stroke-width="1.2" fill="none"/></svg><div class="pt" style="letter-spacing:0.61px">Container I/O</div></div>
<div class="panel" style="left:748px;top:741px;width:258px;height:220px"><svg class="viz" width="258" height="220" viewBox="748 741 258 220"><defs><radialGradient id="lcd" cx="0.5" cy="0.5" r="0.7071"><stop offset="0.1" stop-color="#f3da2a"/><stop offset="1" stop-color="#ab981b"/></radialGradient></defs><text x="757.3" y="796.1" textLength="36.29" lengthAdjust="spacing">Ready</text><rect x="756.8" y="800.2" width="10" height="22.7" rx="1.5" fill="url(#lcd)"/><rect x="768.83" y="800.2" width="10" height="22.7" rx="1.5" fill="url(#lcd)"/><rect x="780.86" y="800.2" width="10" height="22.7" rx="1.5" fill="url(#lcd)"/><rect x="792.89" y="800.2" width="10" height="22.7" rx="1.5" fill="url(#lcd)"/><rect x="804.92" y="800.2" width="10" height="22.7" rx="1.5" fill="url(#lcd)"/><rect x="816.95" y="800.2" width="10" height="22.7" rx="1.5" fill="url(#lcd)"/><rect x="828.98" y="800.2" width="10" height="22.7" rx="1.5" fill="url(#lcd)"/><rect x="841.01" y="800.2" width="10" height="22.7" rx="1.5" fill="url(#lcd)"/><rect x="853.04" y="800.2" width="10" height="22.7" rx="1.5" fill="url(#lcd)"/><rect x="865.07" y="800.2" width="10" height="22.7" rx="1.5" fill="url(#lcd)"/><rect x="877.1" y="800.2" width="10" height="22.7" rx="1.5" fill="url(#lcd)"/><rect x="889.13" y="800.2" width="10" height="22.7" rx="1.5" fill="url(#lcd)"/><rect x="901.16" y="800.2" width="10" height="22.7" rx="1.5" fill="url(#lcd)"/><rect x="913.19" y="800.2" width="10" height="22.7" rx="1.5" fill="url(#lcd)"/><rect x="925.22" y="800.2" width="10" height="22.7" rx="1.5" fill="url(#lcd)"/><rect x="937.25" y="800.2" width="10" height="22.7" rx="1.5" fill="#4a4423"/><text x="986.3" y="818.93" text-anchor="end" style="fill:#FADE2A;stroke:#FADE2A;font-size:23px">10</text><text x="757.3" y="839.1" textLength="43.91" lengthAdjust="spacing">Waiting</text><rect x="756.8" y="843.2" width="10" height="22.7" rx="1.5" fill="url(#lcd)"/><rect x="768.83" y="843.2" width="10" height="22.7" rx="1.5" fill="url(#lcd)"/><rect x="780.86" y="843.2" width="10" height="22.7" rx="1.5" fill="url(#lcd)"/><rect x="792.89" y="843.2" width="10" height="22.7" rx="1.5" fill="#4a4423"/><rect x="804.92" y="843.2" width="10" height="22.7" rx="1.5" fill="#4a4423"/><rect x="816.95" y="843.2" width="10" height="22.7" rx="1.5" fill="#4a4423"/><rect x="828.98" y="843.2" width="10" height="22.7" rx="1.5" fill="#4a4423"/><rect x="841.01" y="843.2" width="10" height="22.7" rx="1.5" fill="#4a4423"/><rect x="853.04" y="843.2" width="10" height="22.7" rx="1.5" fill="#4a4423"/><rect x="865.07" y="843.2" width="10" height="22.7" rx="1.5" fill="#4a4423"/><rect x="877.1" y="843.2" width="10" height="22.7" rx="1.5" fill="#4a4423"/><rect x="889.13" y="843.2" width="10" height="22.7" rx="1.5" fill="#4a4423"/><rect x="901.16" y="843.2" width="10" height="22.7" rx="1.5" fill="#4a4423"/><rect x="913.19" y="843.2" width="10" height="22.7" rx="1.5" fill="#4a4423"/><rect x="925.22" y="843.2" width="10" height="22.7" rx="1.5" fill="#4a4423"/><rect x="937.25" y="843.2" width="10" height="22.7" rx="1.5" fill="#4a4423"/><text x="986.3" y="861.93" text-anchor="end" style="fill:#FADE2A;stroke:#FADE2A;font-size:23px">2</text><text x="757.3" y="882.1" textLength="63.59" lengthAdjust="spacing">Completed</text><rect x="756.8" y="886.2" width="10" height="22.7" rx="1.5" fill="url(#lcd)"/><rect x="768.83" y="886.2" width="10" height="22.7" rx="1.5" fill="url(#lcd)"/><rect x="780.86" y="886.2" width="10" height="22.7" rx="1.5" fill="#4a4423"/><rect x="792.89" y="886.2" width="10" height="22.7" rx="1.5" fill="#4a4423"/><rect x="804.92" y="886.2" width="10" height="22.7" rx="1.5" fill="#4a4423"/><rect x="816.95" y="886.2" width="10" height="22.7" rx="1.5" fill="#4a4423"/><rect x="828.98" y="886.2" width="10" height="22.7" rx="1.5" fill="#4a4423"/><rect x="841.01" y="886.2" width="10" height="22.7" rx="1.5" fill="#4a4423"/><rect x="853.04" y="886.2" width="10" height="22.7" rx="1.5" fill="#4a4423"/><rect x="865.07" y="886.2" width="10" height="22.7" rx="1.5" fill="#4a4423"/><rect x="877.1" y="886.2" width="10" height="22.7" rx="1.5" fill="#4a4423"/><rect x="889.13" y="886.2" width="10" height="22.7" rx="1.5" fill="#4a4423"/><rect x="901.16" y="886.2" width="10" height="22.7" rx="1.5" fill="#4a4423"/><rect x="913.19" y="886.2" width="10" height="22.7" rx="1.5" fill="#4a4423"/><rect x="925.22" y="886.2" width="10" height="22.7" rx="1.5" fill="#4a4423"/><rect x="937.25" y="886.2" width="10" height="22.7" rx="1.5" fill="#4a4423"/><text x="986.3" y="904.93" text-anchor="end" style="fill:#FADE2A;stroke:#FADE2A;font-size:23px">1</text><text x="757.3" y="925.1" textLength="28.41" lengthAdjust="spacing">Error</text><rect x="756.8" y="929.2" width="10" height="22.7" rx="1.5" fill="url(#lcd)"/><rect x="768.83" y="929.2" width="10" height="22.7" rx="1.5" fill="#4a4423"/><rect x="780.86" y="929.2" width="10" height="22.7" rx="1.5" fill="#4a4423"/><rect x="792.89" y="929.2" width="10" height="22.7" rx="1.5" fill="#4a4423"/><rect x="804.92" y="929.2" width="10" height="22.7" rx="1.5" fill="#4a4423"/><rect x="816.95" y="929.2" width="10" height="22.7" rx="1.5" fill="#4a4423"/><rect x="828.98" y="929.2" width="10" height="22.7" rx="1.5" fill="#4a4423"/><rect x="841.01" y="929.2" width="10" height="22.7" rx="1.5" fill="#4a4423"/><rect x="853.04" y="929.2" width="10" height="22.7" rx="1.5" fill="#4a4423"/><rect x="865.07" y="929.2" width="10" height="22.7" rx="1.5" fill="#4a4423"/><rect x="877.1" y="929.2" width="10" height="22.7" rx="1.5" fill="#4a4423"/><rect x="889.13" y="929.2" width="10" height="22.7" rx="1.5" fill="#4a4423"/><rect x="901.16" y="929.2" width="10" height="22.7" rx="1.5" fill="#4a4423"/><rect x="913.19" y="929.2" width="10" height="22.7" rx="1.5" fill="#4a4423"/><rect x="925.22" y="929.2" width="10" height="22.7" rx="1.5" fill="#4a4423"/><rect x="937.25" y="929.2" width="10" height="22.7" rx="1.5" fill="#4a4423"/><text x="986.3" y="947.93" text-anchor="end" style="fill:#FADE2A;stroke:#FADE2A;font-size:23px">0</text><g fill="none" stroke="rgba(204,204,220,0.68)"><circle cx="926" cy="757.9" r="6.1" stroke-width="1.3"/><path d="M926,757.5 v3.4 M926,754.6 v1.3" stroke-width="1.25" stroke="rgba(204,204,220,0.55)"/></g><path d="M995.1,958.7 L1004,950.3 M999.8,958.7 L1003.8,955.3" stroke="rgba(204,204,220,0.36)" stroke-width="1.2" fill="none"/></svg><div class="pt" style="letter-spacing:0.61px">Container Pod Status</div></div>
<div class="panel" style="left:16px;top:1007px;width:391px;height:296px"><svg class="viz" width="391" height="296" viewBox="16 1007 391 296"><defs><clipPath id="c3"><rect x="78.2" y="1050" width="312.3" height="171.5"/></clipPath></defs><path d="M78.2,1059.5H390.5M78.2,1091.5H390.5M78.2,1123.5H390.5M78.2,1154.5H390.5M78.2,1186.5H390.5M78.2,1218.5H390.5" stroke="rgba(240,250,255,0.11)" stroke-width="1" fill="none"/><path d="M97.5,1056V1222.5M385.5,1056V1222.5" stroke="rgba(240,250,255,0.11)" stroke-width="1" fill="none"/><text x="72.6" y="1062.6" text-anchor="end" textLength="15.45" lengthAdjust="spacing">1 s</text><text x="72.6" y="1094.5" text-anchor="end" textLength="42.6" lengthAdjust="spacing">800 ms</text><text x="72.6" y="1126.5" text-anchor="end" textLength="42.6" lengthAdjust="spacing">600 ms</text><text x="72.6" y="1158" text-anchor="end" textLength="42.84" lengthAdjust="spacing">400 ms</text><text x="72.6" y="1189.8" text-anchor="end" textLength="42.36" lengthAdjust="spacing">200 ms</text><text x="72.6" y="1221.6" text-anchor="end" textLength="17.16" lengthAdjust="spacing">0 s</text><text x="97.5" y="1237" text-anchor="middle" textLength="28.68" lengthAdjust="spacing">11:40</text><text x="385.2" y="1237" text-anchor="middle" textLength="28.32" lengthAdjust="spacing">11:45</text><g clip-path="url(#c3)"><path d="M68.7,1218.4C73.5,1218.4 78.3,1218.4 83.1,1218.4C87.9,1218.4 92.7,1218.4 97.5,1218.4C102.3,1218.4 107.1,1218.4 111.9,1218.4C116.7,1218.4 121.5,1218.4 126.3,1218.4C131.1,1218.4 135.9,1218.4 140.7,1218.4C145.5,1218.4 150.3,1218.4 155.1,1218.4C159.9,1218.4 164.7,1218.4 169.5,1218.4C174.3,1218.4 179.1,1218.4 183.9,1218.4C188.7,1218.4 193.5,1218.4 198.3,1218.4C203.1,1218.4 207.9,1218.4 212.7,1218.4C217.5,1218.4 222.3,1218.4 227.1,1218.4C231.9,1218.4 236.7,1218.4 241.5,1218.4C246.3,1218.4 251.1,1218.4 255.9,1218.4C260.7,1218.4 265.5,1218.4 270.3,1218.4C275.1,1218.4 279.9,1218.4 284.7,1218.4C289.5,1218.4 294.3,1218.4 299.1,1218.4C303.9,1218.4 308.7,1218.4 313.5,1218.4C318.3,1218.4 323.1,1218.4 327.9,1218.4C332.7,1218.4 337.5,1218.4 342.3,1218.4C347.1,1218.4 351.9,1218.4 356.7,1218.4C361.5,1218.4 366.3,1218.4 371.1,1218.4C375.9,1218.4 380.7,1218.4 385.5,1218.4L385.5,1218.4 L68.7,1218.4 Z" fill="#73BF69" fill-opacity="0.38"/><path d="M68.7,1218.4C73.5,1218.4 78.3,1218.4 83.1,1218.4C87.9,1218.4 92.7,1218.4 97.5,1218.4C102.3,1218.4 107.1,1218.4 111.9,1218.4C116.7,1218.4 121.5,1218.4 126.3,1218.4C131.1,1218.4 135.9,1218.4 140.7,1218.4C145.5,1218.4 150.3,1218.4 155.1,1218.4C159.9,1218.4 164.7,1218.4 169.5,1218.4C174.3,1218.4 179.1,1218.4 183.9,1218.4C188.7,1218.4 193.5,1218.4 198.3,1218.4C203.1,1218.4 207.9,1218.4 212.7,1218.4C217.5,1218.4 222.3,1218.4 227.1,1218.4C231.9,1218.4 236.7,1218.4 241.5,1218.4C246.3,1218.4 251.1,1218.4 255.9,1218.4C260.7,1218.4 265.5,1218.4 270.3,1218.4C275.1,1218.4 279.9,1218.4 284.7,1218.4C289.5,1218.4 294.3,1218.4 299.1,1218.4C303.9,1218.4 308.7,1218.4 313.5,1218.4C318.3,1218.4 323.1,1218.4 327.9,1218.4C332.7,1218.4 337.5,1218.4 342.3,1218.4C347.1,1218.4 351.9,1218.4 356.7,1218.4C361.5,1218.4 366.3,1218.4 371.1,1218.4C375.9,1218.4 380.7,1218.4 385.5,1218.4" fill="none" stroke="#73BF69" stroke-width="1.1" stroke-linejoin="round"/><g fill="#73BF69"><circle cx="68.7" cy="1218.4" r="2.5"/><circle cx="83.1" cy="1218.4" r="2.5"/><circle cx="97.5" cy="1218.4" r="2.5"/><circle cx="111.9" cy="1218.4" r="2.5"/><circle cx="126.3" cy="1218.4" r="2.5"/><circle cx="140.7" cy="1218.4" r="2.5"/><circle cx="155.1" cy="1218.4" r="2.5"/><circle cx="169.5" cy="1218.4" r="2.5"/><circle cx="183.9" cy="1218.4" r="2.5"/><circle cx="198.3" cy="1218.4" r="2.5"/><circle cx="212.7" cy="1218.4" r="2.5"/><circle cx="227.1" cy="1218.4" r="2.5"/><circle cx="241.5" cy="1218.4" r="2.5"/><circle cx="255.9" cy="1218.4" r="2.5"/><circle cx="270.3" cy="1218.4" r="2.5"/><circle cx="284.7" cy="1218.4" r="2.5"/><circle cx="299.1" cy="1218.4" r="2.5"/><circle cx="313.5" cy="1218.4" r="2.5"/><circle cx="327.9" cy="1218.4" r="2.5"/><circle cx="342.3" cy="1218.4" r="2.5"/><circle cx="356.7" cy="1218.4" r="2.5"/><circle cx="371.1" cy="1218.4" r="2.5"/><circle cx="385.5" cy="1218.4" r="2.5"/></g><path d="M68.7,1216.56C73.5,1216.64 78.3,1216.7 83.1,1216.8C87.9,1216.9 92.7,1217.2 97.5,1217.2C102.3,1217.2 107.1,1216.95 111.9,1216.8C116.7,1216.65 121.5,1216.3 126.3,1216.3C131.1,1216.3 135.9,1216.3 140.7,1216.3C145.5,1216.3 150.3,1153.53 155.1,1147.3C159.9,1141.07 164.7,1137.67 169.5,1136.5C174.3,1135.33 179.1,1134.4 183.9,1134.4C188.7,1134.4 193.5,1134.4 198.3,1134.4C203.1,1134.4 207.9,1191.4 212.7,1191.4C217.5,1191.4 222.3,1180.34 227.1,1178.3C231.9,1176.26 236.7,1174.3 241.5,1174.3C246.3,1174.3 251.1,1190.22 255.9,1195.8C260.7,1201.38 265.5,1207.44 270.3,1209.5C275.1,1211.56 279.9,1212.74 284.7,1213.5C289.5,1214.26 294.3,1215.1 299.1,1215.1C303.9,1215.1 308.7,1214.23 313.5,1214C318.3,1213.77 323.1,1213.5 327.9,1213.5C332.7,1213.5 337.5,1213.5 342.3,1213.5C347.1,1213.5 351.9,1212.4 356.7,1212.4C361.5,1212.4 366.3,1212.4 371.1,1212.4C375.9,1212.4 380.7,1211.53 385.5,1211.1L385.5,1218.4 L68.7,1218.4 Z" fill="#F2CC0C" fill-opacity="0.38"/><path d="M68.7,1216.56C73.5,1216.64 78.3,1216.7 83.1,1216.8C87.9,1216.9 92.7,1217.2 97.5,1217.2C102.3,1217.2 107.1,1216.95 111.9,1216.8C116.7,1216.65 121.5,1216.3 126.3,1216.3C131.1,1216.3 135.9,1216.3 140.7,1216.3C145.5,1216.3 150.3,1153.53 155.1,1147.3C159.9,1141.07 164.7,1137.67 169.5,1136.5C174.3,1135.33 179.1,1134.4 183.9,1134.4C188.7,1134.4 193.5,1134.4 198.3,1134.4C203.1,1134.4 207.9,1191.4 212.7,1191.4C217.5,1191.4 222.3,1180.34 227.1,1178.3C231.9,1176.26 236.7,1174.3 241.5,1174.3C246.3,1174.3 251.1,1190.22 255.9,1195.8C260.7,1201.38 265.5,1207.44 270.3,1209.5C275.1,1211.56 279.9,1212.74 284.7,1213.5C289.5,1214.26 294.3,1215.1 299.1,1215.1C303.9,1215.1 308.7,1214.23 313.5,1214C318.3,1213.77 323.1,1213.5 327.9,1213.5C332.7,1213.5 337.5,1213.5 342.3,1213.5C347.1,1213.5 351.9,1212.4 356.7,1212.4C361.5,1212.4 366.3,1212.4 371.1,1212.4C375.9,1212.4 380.7,1211.53 385.5,1211.1" fill="none" stroke="#F2CC0C" stroke-width="1.1" stroke-linejoin="round"/><g fill="#F2CC0C"><circle cx="68.7" cy="1216.56" r="2.5"/><circle cx="83.1" cy="1216.8" r="2.5"/><circle cx="97.5" cy="1217.2" r="2.5"/><circle cx="111.9" cy="1216.8" r="2.5"/><circle cx="126.3" cy="1216.3" r="2.5"/><circle cx="140.7" cy="1216.3" r="2.5"/><circle cx="155.1" cy="1147.3" r="2.5"/><circle cx="169.5" cy="1136.5" r="2.5"/><circle cx="183.9" cy="1134.4" r="2.5"/><circle cx="198.3" cy="1134.4" r="2.5"/><circle cx="212.7" cy="1191.4" r="2.5"/><circle cx="227.1" cy="1178.3" r="2.5"/><circle cx="241.5" cy="1174.3" r="2.5"/><circle cx="255.9" cy="1195.8" r="2.5"/><circle cx="270.3" cy="1209.5" r="2.5"/><circle cx="284.7" cy="1213.5" r="2.5"/><circle cx="299.1" cy="1215.1" r="2.5"/><circle cx="313.5" cy="1214" r="2.5"/><circle cx="327.9" cy="1213.5" r="2.5"/><circle cx="342.3" cy="1213.5" r="2.5"/><circle cx="356.7" cy="1212.4" r="2.5"/><circle cx="371.1" cy="1212.4" r="2.5"/><circle cx="385.5" cy="1211.1" r="2.5"/></g><path d="M68.7,1200.68C73.5,1200.92 78.3,1201.1 83.1,1201.4C87.9,1201.7 92.7,1202.6 97.5,1202.6C102.3,1202.6 107.1,1195.4 111.9,1195.4C116.7,1195.4 121.5,1195.4 126.3,1195.4C131.1,1195.4 135.9,1195.79 140.7,1196.4C145.5,1197.01 150.3,1207.6 155.1,1207.6C159.9,1207.6 164.7,1192.59 169.5,1183.3C174.3,1174.01 179.1,1150.6 183.9,1150.6C188.7,1150.6 193.5,1150.6 198.3,1150.6C203.1,1150.6 207.9,1176.6 212.7,1176.6C217.5,1176.6 222.3,1158.26 227.1,1146.2C231.9,1134.14 236.7,1113.25 241.5,1101.5C246.3,1089.75 251.1,1072.4 255.9,1072.4C260.7,1072.4 265.5,1120.78 270.3,1137.3C275.1,1153.82 279.9,1165.13 284.7,1177.4C289.5,1189.67 294.3,1211.4 299.1,1211.4C303.9,1211.4 308.7,1190.57 313.5,1188.3C318.3,1186.03 323.1,1184.3 327.9,1184.3C332.7,1184.3 337.5,1184.3 342.3,1184.3C347.1,1184.3 351.9,1194.36 356.7,1196.4C361.5,1198.44 366.3,1200.5 371.1,1200.5C375.9,1200.5 380.7,1183.7 385.5,1175.3L385.5,1218.4 L68.7,1218.4 Z" fill="#8AB8FF" fill-opacity="0.38"/><path d="M68.7,1200.68C73.5,1200.92 78.3,1201.1 83.1,1201.4C87.9,1201.7 92.7,1202.6 97.5,1202.6C102.3,1202.6 107.1,1195.4 111.9,1195.4C116.7,1195.4 121.5,1195.4 126.3,1195.4C131.1,1195.4 135.9,1195.79 140.7,1196.4C145.5,1197.01 150.3,1207.6 155.1,1207.6C159.9,1207.6 164.7,1192.59 169.5,1183.3C174.3,1174.01 179.1,1150.6 183.9,1150.6C188.7,1150.6 193.5,1150.6 198.3,1150.6C203.1,1150.6 207.9,1176.6 212.7,1176.6C217.5,1176.6 222.3,1158.26 227.1,1146.2C231.9,1134.14 236.7,1113.25 241.5,1101.5C246.3,1089.75 251.1,1072.4 255.9,1072.4C260.7,1072.4 265.5,1120.78 270.3,1137.3C275.1,1153.82 279.9,1165.13 284.7,1177.4C289.5,1189.67 294.3,1211.4 299.1,1211.4C303.9,1211.4 308.7,1190.57 313.5,1188.3C318.3,1186.03 323.1,1184.3 327.9,1184.3C332.7,1184.3 337.5,1184.3 342.3,1184.3C347.1,1184.3 351.9,1194.36 356.7,1196.4C361.5,1198.44 366.3,1200.5 371.1,1200.5C375.9,1200.5 380.7,1183.7 385.5,1175.3" fill="none" stroke="#8AB8FF" stroke-width="1.1" stroke-linejoin="round"/><g fill="#8AB8FF"><circle cx="68.7" cy="1200.68" r="2.5"/><circle cx="83.1" cy="1201.4" r="2.5"/><circle cx="97.5" cy="1202.6" r="2.5"/><circle cx="111.9" cy="1195.4" r="2.5"/><circle cx="126.3" cy="1195.4" r="2.5"/><circle cx="140.7" cy="1196.4" r="2.5"/><circle cx="155.1" cy="1207.6" r="2.5"/><circle cx="169.5" cy="1183.3" r="2.5"/><circle cx="183.9" cy="1150.6" r="2.5"/><circle cx="198.3" cy="1150.6" r="2.5"/><circle cx="212.7" cy="1176.6" r="2.5"/><circle cx="227.1" cy="1146.2" r="2.5"/><circle cx="241.5" cy="1101.5" r="2.5"/><circle cx="255.9" cy="1072.4" r="2.5"/><circle cx="270.3" cy="1137.3" r="2.5"/><circle cx="284.7" cy="1177.4" r="2.5"/><circle cx="299.1" cy="1211.4" r="2.5"/><circle cx="313.5" cy="1188.3" r="2.5"/><circle cx="327.9" cy="1184.3" r="2.5"/><circle cx="342.3" cy="1184.3" r="2.5"/><circle cx="356.7" cy="1196.4" r="2.5"/><circle cx="371.1" cy="1200.5" r="2.5"/><circle cx="385.5" cy="1175.3" r="2.5"/></g><path d="M68.7,1215.68C73.5,1215.92 78.3,1216.1 83.1,1216.4C87.9,1216.7 92.7,1217.6 97.5,1217.6C102.3,1217.6 107.1,1214.7 111.9,1213.5C116.7,1212.3 121.5,1210.3 126.3,1210.3C131.1,1210.3 135.9,1210.3 140.7,1210.3C145.5,1210.3 150.3,1214.3 155.1,1214.3C159.9,1214.3 164.7,1210.74 169.5,1210.3C174.3,1209.86 179.1,1209.5 183.9,1209.5C188.7,1209.5 193.5,1209.5 198.3,1209.5C203.1,1209.5 207.9,1205.5 212.7,1205.5C217.5,1205.5 222.3,1209.5 227.1,1209.5C231.9,1209.5 236.7,1207.92 241.5,1206.3C246.3,1204.68 251.1,1196.3 255.9,1196.3C260.7,1196.3 265.5,1205.5 270.3,1205.5C275.1,1205.5 279.9,1205.5 284.7,1205.5C289.5,1205.5 294.3,1216.4 299.1,1216.4C303.9,1216.4 308.7,1214.69 313.5,1214.3C318.3,1213.91 323.1,1213.5 327.9,1213.5C332.7,1213.5 337.5,1213.5 342.3,1213.5C347.1,1213.5 351.9,1217.6 356.7,1217.6C361.5,1217.6 366.3,1217.6 371.1,1217.6C375.9,1217.6 380.7,1216.27 385.5,1215.6L385.5,1218.4 L68.7,1218.4 Z" fill="#FF780A" fill-opacity="0.38"/><path d="M68.7,1215.68C73.5,1215.92 78.3,1216.1 83.1,1216.4C87.9,1216.7 92.7,1217.6 97.5,1217.6C102.3,1217.6 107.1,1214.7 111.9,1213.5C116.7,1212.3 121.5,1210.3 126.3,1210.3C131.1,1210.3 135.9,1210.3 140.7,1210.3C145.5,1210.3 150.3,1214.3 155.1,1214.3C159.9,1214.3 164.7,1210.74 169.5,1210.3C174.3,1209.86 179.1,1209.5 183.9,1209.5C188.7,1209.5 193.5,1209.5 198.3,1209.5C203.1,1209.5 207.9,1205.5 212.7,1205.5C217.5,1205.5 222.3,1209.5 227.1,1209.5C231.9,1209.5 236.7,1207.92 241.5,1206.3C246.3,1204.68 251.1,1196.3 255.9,1196.3C260.7,1196.3 265.5,1205.5 270.3,1205.5C275.1,1205.5 279.9,1205.5 284.7,1205.5C289.5,1205.5 294.3,1216.4 299.1,1216.4C303.9,1216.4 308.7,1214.69 313.5,1214.3C318.3,1213.91 323.1,1213.5 327.9,1213.5C332.7,1213.5 337.5,1213.5 342.3,1213.5C347.1,1213.5 351.9,1217.6 356.7,1217.6C361.5,1217.6 366.3,1217.6 371.1,1217.6C375.9,1217.6 380.7,1216.27 385.5,1215.6" fill="none" stroke="#FF780A" stroke-width="1.1" stroke-linejoin="round"/><g fill="#FF780A"><circle cx="68.7" cy="1215.68" r="2.5"/><circle cx="83.1" cy="1216.4" r="2.5"/><circle cx="97.5" cy="1217.6" r="2.5"/><circle cx="111.9" cy="1213.5" r="2.5"/><circle cx="126.3" cy="1210.3" r="2.5"/><circle cx="140.7" cy="1210.3" r="2.5"/><circle cx="155.1" cy="1214.3" r="2.5"/><circle cx="169.5" cy="1210.3" r="2.5"/><circle cx="183.9" cy="1209.5" r="2.5"/><circle cx="198.3" cy="1209.5" r="2.5"/><circle cx="212.7" cy="1205.5" r="2.5"/><circle cx="227.1" cy="1209.5" r="2.5"/><circle cx="241.5" cy="1206.3" r="2.5"/><circle cx="255.9" cy="1196.3" r="2.5"/><circle cx="270.3" cy="1205.5" r="2.5"/><circle cx="284.7" cy="1205.5" r="2.5"/><circle cx="299.1" cy="1216.4" r="2.5"/><circle cx="313.5" cy="1214.3" r="2.5"/><circle cx="327.9" cy="1213.5" r="2.5"/><circle cx="342.3" cy="1213.5" r="2.5"/><circle cx="356.7" cy="1217.6" r="2.5"/><circle cx="371.1" cy="1217.6" r="2.5"/><circle cx="385.5" cy="1215.6" r="2.5"/></g></g><rect x="29.2" y="1254.6" width="14" height="4" rx="2" fill="#73BF69"/><text x="51.2" y="1260.9" textLength="108.9" lengthAdjust="spacing">autoscalinglistener</text><rect x="170.6" y="1254.6" width="14" height="4" rx="2" fill="#F2CC0C"/><text x="192.6" y="1260.9" textLength="122" lengthAdjust="spacing">autoscalingrunnerset</text><rect x="29.2" y="1278" width="14" height="4" rx="2" fill="#8AB8FF"/><text x="51.2" y="1284.3" textLength="99" lengthAdjust="spacing">ephemeralrunner</text><rect x="160.4" y="1278" width="14" height="4" rx="2" fill="#FF780A"/><text x="182.4" y="1284.3" textLength="116.6" lengthAdjust="spacing">ephemeralrunnerset</text><g fill="none" stroke="rgba(204,204,220,0.68)"><circle cx="153.9" cy="1023.9" r="6.1" stroke-width="1.3"/><path d="M153.9,1023.5 v3.4 M153.9,1020.6 v1.3" stroke-width="1.25" stroke="rgba(204,204,220,0.55)"/></g><path d="M396.1,1300.7 L405,1292.3 M400.8,1300.7 L404.8,1297.3" stroke="rgba(204,204,220,0.36)" stroke-width="1.2" fill="none"/></svg><div class="pt" style="letter-spacing:0.68px">Reconcile Time</div></div>
<div class="panel" style="left:415px;top:1007px;width:391px;height:296px"><svg class="viz" width="391" height="296" viewBox="415 1007 391 296"><defs><clipPath id="c4"><rect x="477.2" y="1050" width="312.5" height="171.5"/></clipPath></defs><path d="M477.2,1061.5H789.7M477.2,1113.5H789.7M477.2,1166.5H789.7M477.2,1218.5H789.7" stroke="rgba(240,250,255,0.11)" stroke-width="1" fill="none"/><path d="M496.5,1056V1222.5M784.5,1056V1222.5" stroke="rgba(240,250,255,0.11)" stroke-width="1" fill="none"/><text x="471.6" y="1064.9" text-anchor="end" textLength="42.6" lengthAdjust="spacing">600 ms</text><text x="471.6" y="1116.8" text-anchor="end" textLength="42.84" lengthAdjust="spacing">400 ms</text><text x="471.6" y="1170" text-anchor="end" textLength="42.36" lengthAdjust="spacing">200 ms</text><text x="471.6" y="1221.9" text-anchor="end" textLength="17.16" lengthAdjust="spacing">0 s</text><text x="496.5" y="1237" text-anchor="middle" textLength="28.68" lengthAdjust="spacing">11:40</text><text x="784.2" y="1237" text-anchor="middle" textLength="28.32" lengthAdjust="spacing">11:45</text><g clip-path="url(#c4)"><path d="M467.7,1218.4L482.1,1218.4L496.5,1218.4L510.9,1218.4L525.3,1218.4L539.7,1218.4L554.1,1218.4L568.5,1218.4L582.9,1218.4L597.3,1218.4L611.7,1218.4L626.1,1218.4L640.5,1218.4L654.9,1218.4L669.3,1218.4L683.7,1218.4L698.1,1218.4L712.5,1218.4L726.9,1218.4L741.3,1218.4L755.7,1218.4L770.1,1218.4L784.5,1218.4L784.5,1218.4 L467.7,1218.4 Z" fill="#73BF69" fill-opacity="0.38"/><path d="M467.7,1218.4L482.1,1218.4L496.5,1218.4L510.9,1218.4L525.3,1218.4L539.7,1218.4L554.1,1218.4L568.5,1218.4L582.9,1218.4L597.3,1218.4L611.7,1218.4L626.1,1218.4L640.5,1218.4L654.9,1218.4L669.3,1218.4L683.7,1218.4L698.1,1218.4L712.5,1218.4L726.9,1218.4L741.3,1218.4L755.7,1218.4L770.1,1218.4L784.5,1218.4" fill="none" stroke="#73BF69" stroke-width="1.1" stroke-linejoin="round"/><g fill="#73BF69"><circle cx="467.7" cy="1218.4" r="2.5"/><circle cx="482.1" cy="1218.4" r="2.5"/><circle cx="496.5" cy="1218.4" r="2.5"/><circle cx="510.9" cy="1218.4" r="2.5"/><circle cx="525.3" cy="1218.4" r="2.5"/><circle cx="539.7" cy="1218.4" r="2.5"/><circle cx="554.1" cy="1218.4" r="2.5"/><circle cx="568.5" cy="1218.4" r="2.5"/><circle cx="582.9" cy="1218.4" r="2.5"/><circle cx="597.3" cy="1218.4" r="2.5"/><circle cx="611.7" cy="1218.4" r="2.5"/><circle cx="626.1" cy="1218.4" r="2.5"/><circle cx="640.5" cy="1218.4" r="2.5"/><circle cx="654.9" cy="1218.4" r="2.5"/><circle cx="669.3" cy="1218.4" r="2.5"/><circle cx="683.7" cy="1218.4" r="2.5"/><circle cx="698.1" cy="1218.4" r="2.5"/><circle cx="712.5" cy="1218.4" r="2.5"/><circle cx="726.9" cy="1218.4" r="2.5"/><circle cx="741.3" cy="1218.4" r="2.5"/><circle cx="755.7" cy="1218.4" r="2.5"/><circle cx="770.1" cy="1218.4" r="2.5"/><circle cx="784.5" cy="1218.4" r="2.5"/></g><path d="M467.7,1218.4L482.1,1218.4L496.5,1218.4L510.9,1218.4L525.3,1218.4L539.7,1218.4L554.1,1218.4L568.5,1207.6L582.9,1207.1L597.3,1207.1L611.7,1218.4L626.1,1218.4L640.5,1218.4L654.9,1218.4L669.3,1218.4L683.7,1218.4L698.1,1218.4L712.5,1218.4L726.9,1218.4L741.3,1218.4L755.7,1218.4L770.1,1218.4L784.5,1218.4L784.5,1218.4 L467.7,1218.4 Z" fill="#F2CC0C" fill-opacity="0.38"/><path d="M467.7,1218.4L482.1,1218.4L496.5,1218.4L510.9,1218.4L525.3,1218.4L539.7,1218.4L554.1,1218.4L568.5,1207.6L582.9,1207.1L597.3,1207.1L611.7,1218.4L626.1,1218.4L640.5,1218.4L654.9,1218.4L669.3,1218.4L683.7,1218.4L698.1,1218.4L712.5,1218.4L726.9,1218.4L741.3,1218.4L755.7,1218.4L770.1,1218.4L784.5,1218.4" fill="none" stroke="#F2CC0C" stroke-width="1.1" stroke-linejoin="round"/><g fill="#F2CC0C"><circle cx="467.7" cy="1218.4" r="2.5"/><circle cx="482.1" cy="1218.4" r="2.5"/><circle cx="496.5" cy="1218.4" r="2.5"/><circle cx="510.9" cy="1218.4" r="2.5"/><circle cx="525.3" cy="1218.4" r="2.5"/><circle cx="539.7" cy="1218.4" r="2.5"/><circle cx="554.1" cy="1218.4" r="2.5"/><circle cx="568.5" cy="1207.6" r="2.5"/><circle cx="582.9" cy="1207.1" r="2.5"/><circle cx="597.3" cy="1207.1" r="2.5"/><circle cx="611.7" cy="1218.4" r="2.5"/><circle cx="626.1" cy="1218.4" r="2.5"/><circle cx="640.5" cy="1218.4" r="2.5"/><circle cx="654.9" cy="1218.4" r="2.5"/><circle cx="669.3" cy="1218.4" r="2.5"/><circle cx="683.7" cy="1218.4" r="2.5"/><circle cx="698.1" cy="1218.4" r="2.5"/><circle cx="712.5" cy="1218.4" r="2.5"/><circle cx="726.9" cy="1218.4" r="2.5"/><circle cx="741.3" cy="1218.4" r="2.5"/><circle cx="755.7" cy="1218.4" r="2.5"/><circle cx="770.1" cy="1218.4" r="2.5"/><circle cx="784.5" cy="1218.4" r="2.5"/></g><path d="M467.7,1213.8L482.1,1199.8L496.5,1199.8L510.9,1198.5L525.3,1215.5L539.7,1215.5L554.1,1218.4L568.5,1147.3L582.9,1127.7L597.3,1127.7L611.7,1197.4L626.1,1150.6L640.5,1132.5L654.9,1073.4L669.3,1140.6L683.7,1140.6L698.1,1205.5L712.5,1169.3L726.9,1154.6L741.3,1154.6L755.7,1200.5L770.1,1215.1L784.5,1179.3L784.5,1218.4 L467.7,1218.4 Z" fill="#8AB8FF" fill-opacity="0.38"/><path d="M467.7,1213.8L482.1,1199.8L496.5,1199.8L510.9,1198.5L525.3,1215.5L539.7,1215.5L554.1,1218.4L568.5,1147.3L582.9,1127.7L597.3,1127.7L611.7,1197.4L626.1,1150.6L640.5,1132.5L654.9,1073.4L669.3,1140.6L683.7,1140.6L698.1,1205.5L712.5,1169.3L726.9,1154.6L741.3,1154.6L755.7,1200.5L770.1,1215.1L784.5,1179.3" fill="none" stroke="#8AB8FF" stroke-width="1.1" stroke-linejoin="round"/><g fill="#8AB8FF"><circle cx="467.7" cy="1213.8" r="2.5"/><circle cx="482.1" cy="1199.8" r="2.5"/><circle cx="496.5" cy="1199.8" r="2.5"/><circle cx="510.9" cy="1198.5" r="2.5"/><circle cx="525.3" cy="1215.5" r="2.5"/><circle cx="539.7" cy="1215.5" r="2.5"/><circle cx="554.1" cy="1218.4" r="2.5"/><circle cx="568.5" cy="1147.3" r="2.5"/><circle cx="582.9" cy="1127.7" r="2.5"/><circle cx="597.3" cy="1127.7" r="2.5"/><circle cx="611.7" cy="1197.4" r="2.5"/><circle cx="626.1" cy="1150.6" r="2.5"/><circle cx="640.5" cy="1132.5" r="2.5"/><circle cx="654.9" cy="1073.4" r="2.5"/><circle cx="669.3" cy="1140.6" r="2.5"/><circle cx="683.7" cy="1140.6" r="2.5"/><circle cx="698.1" cy="1205.5" r="2.5"/><circle cx="712.5" cy="1169.3" r="2.5"/><circle cx="726.9" cy="1154.6" r="2.5"/><circle cx="741.3" cy="1154.6" r="2.5"/><circle cx="755.7" cy="1200.5" r="2.5"/><circle cx="770.1" cy="1215.1" r="2.5"/><circle cx="784.5" cy="1179.3" r="2.5"/></g><path d="M467.7,1217.6L482.1,1217.6L496.5,1217.6L510.9,1207.6L525.3,1207.6L539.7,1207.6L554.1,1218.4L568.5,1212.7L582.9,1208.7L597.3,1208.7L611.7,1208.7L626.1,1212.7L640.5,1210.3L654.9,1199.5L669.3,1205.5L683.7,1205.5L698.1,1217.2L712.5,1214.3L726.9,1214.3L741.3,1214.3L755.7,1217.2L770.1,1218.4L784.5,1216.3L784.5,1218.4 L467.7,1218.4 Z" fill="#FF780A" fill-opacity="0.38"/><path d="M467.7,1217.6L482.1,1217.6L496.5,1217.6L510.9,1207.6L525.3,1207.6L539.7,1207.6L554.1,1218.4L568.5,1212.7L582.9,1208.7L597.3,1208.7L611.7,1208.7L626.1,1212.7L640.5,1210.3L654.9,1199.5L669.3,1205.5L683.7,1205.5L698.1,1217.2L712.5,1214.3L726.9,1214.3L741.3,1214.3L755.7,1217.2L770.1,1218.4L784.5,1216.3" fill="none" stroke="#FF780A" stroke-width="1.1" stroke-linejoin="round"/><g fill="#FF780A"><circle cx="467.7" cy="1217.6" r="2.5"/><circle cx="482.1" cy="1217.6" r="2.5"/><circle cx="496.5" cy="1217.6" r="2.5"/><circle cx="510.9" cy="1207.6" r="2.5"/><circle cx="525.3" cy="1207.6" r="2.5"/><circle cx="539.7" cy="1207.6" r="2.5"/><circle cx="554.1" cy="1218.4" r="2.5"/><circle cx="568.5" cy="1212.7" r="2.5"/><circle cx="582.9" cy="1208.7" r="2.5"/><circle cx="597.3" cy="1208.7" r="2.5"/><circle cx="611.7" cy="1208.7" r="2.5"/><circle cx="626.1" cy="1212.7" r="2.5"/><circle cx="640.5" cy="1210.3" r="2.5"/><circle cx="654.9" cy="1199.5" r="2.5"/><circle cx="669.3" cy="1205.5" r="2.5"/><circle cx="683.7" cy="1205.5" r="2.5"/><circle cx="698.1" cy="1217.2" r="2.5"/><circle cx="712.5" cy="1214.3" r="2.5"/><circle cx="726.9" cy="1214.3" r="2.5"/><circle cx="741.3" cy="1214.3" r="2.5"/><circle cx="755.7" cy="1217.2" r="2.5"/><circle cx="770.1" cy="1218.4" r="2.5"/><circle cx="784.5" cy="1216.3" r="2.5"/></g></g><rect x="428.2" y="1254.6" width="14" height="4" rx="2" fill="#73BF69"/><text x="450.2" y="1260.9" textLength="108.9" lengthAdjust="spacing">autoscalinglistener</text><rect x="569.6" y="1254.6" width="14" height="4" rx="2" fill="#F2CC0C"/><text x="591.6" y="1260.9" textLength="122" lengthAdjust="spacing">autoscalingrunnerset</text><rect x="428.2" y="1278" width="14" height="4" rx="2" fill="#8AB8FF"/><text x="450.2" y="1284.3" textLength="99" lengthAdjust="spacing">ephemeralrunner</text><rect x="559.4" y="1278" width="14" height="4" rx="2" fill="#FF780A"/><text x="581.4" y="1284.3" textLength="116.6" lengthAdjust="spacing">ephemeralrunnerset</text><g fill="none" stroke="rgba(204,204,220,0.68)"><circle cx="637" cy="1023.9" r="6.1" stroke-width="1.3"/><path d="M637,1023.5 v3.4 M637,1020.6 v1.3" stroke-width="1.25" stroke="rgba(204,204,220,0.55)"/></g><path d="M795.1,1300.7 L804,1292.3 M799.8,1300.7 L803.8,1297.3" stroke="rgba(204,204,220,0.36)" stroke-width="1.2" fill="none"/></svg><div class="pt" style="letter-spacing:0.63px">Workqueue Queue Duration</div></div>
<div class="panel" style="left:814px;top:1007px;width:392px;height:296px"><svg class="viz" width="392" height="296" viewBox="814 1007 392 296"><path d="M853.2,1056.5H1188.7M853.2,1088.5H1188.7M853.2,1120.5H1188.7M853.2,1153.5H1188.7M853.2,1186.5H1188.7M853.2,1218.5H1188.7" stroke="rgba(240,250,255,0.11)" stroke-width="1" fill="none"/><path d="M874.5,1056V1222.5M1182.5,1056V1222.5" stroke="rgba(240,250,255,0.11)" stroke-width="1" fill="none"/><text x="847.2" y="1059.6" text-anchor="end" textLength="20.16" lengthAdjust="spacing">100</text><text x="847.2" y="1091.5" text-anchor="end" textLength="15" lengthAdjust="spacing">80</text><text x="847.2" y="1125.2" text-anchor="end" textLength="15" lengthAdjust="spacing">60</text><text x="847.2" y="1156.6" text-anchor="end" textLength="15.24" lengthAdjust="spacing">40</text><text x="847.2" y="1190.2" text-anchor="end" textLength="14.76" lengthAdjust="spacing">20</text><text x="847.2" y="1221.7" text-anchor="end" textLength="7.56" lengthAdjust="spacing">0</text><text x="874" y="1237" text-anchor="middle" textLength="28.68" lengthAdjust="spacing">11:40</text><text x="1182.2" y="1237" text-anchor="middle" textLength="28.32" lengthAdjust="spacing">11:45</text><path d="M853.2,1218.5L858.6,1218.5L874.03,1218.5L889.47,1218.5L904.9,1218.5L920.33,1218.5L935.77,1218.5L951.2,1218.5L966.63,1218.5L982.07,1218.5L997.5,1218.5L1012.93,1218.5L1028.37,1218.5L1043.8,1218.5L1059.23,1218.5L1074.67,1218.5L1090.1,1218.5L1105.53,1218.5L1120.97,1218.5L1136.4,1218.5L1151.83,1218.5L1167.27,1218.5L1182.7,1218.5" fill="none" stroke="#73BF69" stroke-width="1.1" stroke-linejoin="round"/><path d="M853.2,1218.5L858.6,1218.5L874.03,1218.5L889.47,1218.5L904.9,1218.5L920.33,1218.5L935.77,1218.5L951.2,1218.5L966.63,1218.5L982.07,1218.5L997.5,1218.5L1012.93,1218.5L1028.37,1218.5L1043.8,1218.5L1059.23,1218.5L1074.67,1218.5L1090.1,1218.5L1105.53,1218.5L1120.97,1218.5L1136.4,1218.5L1151.83,1218.5L1167.27,1218.5L1182.7,1218.5" fill="none" stroke="#F2CC0C" stroke-width="1.1" stroke-linejoin="round"/><path d="M853.2,1218.5L858.6,1218.5L874.03,1218.5L889.47,1218.5L904.9,1218.5L920.33,1218.5L935.77,1218.5L951.2,1218.5L966.63,1218.5L982.07,1218.5L997.5,1218.5L1012.93,1218.5L1028.37,1218.5L1043.8,1218.5L1059.23,1218.5L1074.67,1218.5L1090.1,1218.5L1105.53,1218.5L1120.97,1218.5L1136.4,1218.5L1151.83,1218.5L1167.27,1218.5L1182.7,1218.5" fill="none" stroke="#8AB8FF" stroke-width="1.1" stroke-linejoin="round"/><path d="M853.2,1218.5L858.6,1218.5L874.03,1218.5L889.47,1218.5L904.9,1218.5L920.33,1218.5L935.77,1218.5L951.2,1218.5L966.63,1218.5L982.07,1218.5L997.5,1218.5L1012.93,1218.5L1028.37,1218.5L1043.8,1218.5L1059.23,1218.5L1074.67,1218.5L1090.1,1218.5L1105.53,1218.5L1120.97,1218.5L1136.4,1218.5L1151.83,1218.5L1167.27,1218.5L1182.7,1218.5" fill="none" stroke="#FF780A" stroke-width="1.1" stroke-linejoin="round"/><g fill="#FF780A"><circle cx="858.6" cy="1218.5" r="2.5"/><circle cx="874.03" cy="1218.5" r="2.5"/><circle cx="889.47" cy="1218.5" r="2.5"/><circle cx="904.9" cy="1218.5" r="2.5"/><circle cx="920.33" cy="1218.5" r="2.5"/><circle cx="935.77" cy="1218.5" r="2.5"/><circle cx="951.2" cy="1218.5" r="2.5"/><circle cx="966.63" cy="1218.5" r="2.5"/><circle cx="982.07" cy="1218.5" r="2.5"/><circle cx="997.5" cy="1218.5" r="2.5"/><circle cx="1012.93" cy="1218.5" r="2.5"/><circle cx="1028.37" cy="1218.5" r="2.5"/><circle cx="1043.8" cy="1218.5" r="2.5"/><circle cx="1059.23" cy="1218.5" r="2.5"/><circle cx="1074.67" cy="1218.5" r="2.5"/><circle cx="1090.1" cy="1218.5" r="2.5"/><circle cx="1105.53" cy="1218.5" r="2.5"/><circle cx="1120.97" cy="1218.5" r="2.5"/><circle cx="1136.4" cy="1218.5" r="2.5"/><circle cx="1151.83" cy="1218.5" r="2.5"/><circle cx="1167.27" cy="1218.5" r="2.5"/><circle cx="1182.7" cy="1218.5" r="2.5"/></g><rect x="827.2" y="1254.6" width="14" height="4" rx="2" fill="#73BF69"/><text x="849.2" y="1260.9" textLength="108.9" lengthAdjust="spacing">autoscalinglistener</text><rect x="968.6" y="1254.6" width="14" height="4" rx="2" fill="#F2CC0C"/><text x="990.6" y="1260.9" textLength="122" lengthAdjust="spacing">autoscalingrunnerset</text><rect x="827.2" y="1278" width="14" height="4" rx="2" fill="#8AB8FF"/><text x="849.2" y="1284.3" textLength="99" lengthAdjust="spacing">ephemeralrunner</text><rect x="958.4" y="1278" width="14" height="4" rx="2" fill="#FF780A"/><text x="980.4" y="1284.3" textLength="116.6" lengthAdjust="spacing">ephemeralrunnerset</text><g fill="none" stroke="rgba(204,204,220,0.68)"><circle cx="987.8" cy="1023.9" r="6.1" stroke-width="1.3"/><path d="M987.8,1023.5 v3.4 M987.8,1020.6 v1.3" stroke-width="1.25" stroke="rgba(204,204,220,0.55)"/></g><path d="M1195.1,1300.7 L1204,1292.3 M1199.8,1300.7 L1203.8,1297.3" stroke="rgba(204,204,220,0.36)" stroke-width="1.2" fill="none"/></svg><div class="pt" style="letter-spacing:0.56px">Reconciliation Errors</div></div>
<div class="panel" style="left:16px;top:1311px;width:391px;height:296px"><svg class="viz" width="391" height="296" viewBox="16 1311 391 296"><path d="M16,1473.5L206.8,1473.5V1474H16Z" fill="#294030"/><path d="M16,1473.5L206.8,1473.5" fill="none" stroke="#5fa456" stroke-width="1" stroke-linejoin="round"/><path d="M212.9,1473.5L251.2,1473.5L260.3,1436.5L269.5,1473.5L403.4,1473.5V1474H212.9Z" fill="#294030"/><path d="M212.9,1473.5L251.2,1473.5L260.3,1436.5L269.5,1473.5L403.4,1473.5" fill="none" stroke="#5fa456" stroke-width="1" stroke-linejoin="round"/><path d="M16,1605.5L64.1,1605.5L73.2,1568.7L82.4,1605.5L90.8,1605.5L100,1587L109.2,1605.5L144.1,1605.5L153.2,1549.7L162.7,1605.5L206.8,1605.5V1606H16Z" fill="#294030"/><path d="M16,1605.5L64.1,1605.5L73.2,1568.7L82.4,1605.5L90.8,1605.5L100,1587L109.2,1605.5L144.1,1605.5L153.2,1549.7L162.7,1605.5L206.8,1605.5" fill="none" stroke="#5fa456" stroke-width="1" stroke-linejoin="round"/><path d="M212.9,1605.5L403.4,1605.5V1606H212.9Z" fill="#294030"/><path d="M212.9,1605.5L403.4,1605.5" fill="none" stroke="#5fa456" stroke-width="1" stroke-linejoin="round"/><text x="29.2" y="1371.03" textLength="146.1" lengthAdjust="spacing" style="font-size:16px">autoscalinglistener</text><text transform="translate(29.96 1416.23) scale(1.0541 1)" style="font-size:46.64px;fill:#73BF69;stroke:#73BF69;stroke-width:1.6px;stroke-linejoin:round">0</text><text x="225.1" y="1371.03" textLength="164" lengthAdjust="spacing" style="font-size:16px">autoscalingrunnerset</text><text transform="translate(225.86 1416.23) scale(1.0541 1)" style="font-size:46.64px;fill:#73BF69;stroke:#73BF69;stroke-width:1.6px;stroke-linejoin:round">2</text><text x="29.2" y="1504.03" textLength="132.9" lengthAdjust="spacing" style="font-size:16px">ephemeralrunner</text><text transform="translate(29.96 1549.23) scale(1.0541 1)" style="font-size:46.64px;fill:#73BF69;stroke:#73BF69;stroke-width:1.6px;stroke-linejoin:round">3</text><text x="225.1" y="1504.03" textLength="156.9" lengthAdjust="spacing" style="font-size:16px">ephemeralrunnerset</text><text transform="translate(225.86 1549.23) scale(1.0541 1)" style="font-size:46.64px;fill:#73BF69;stroke:#73BF69;stroke-width:1.6px;stroke-linejoin:round">0</text><g fill="none" stroke="rgba(204,204,220,0.68)"><circle cx="138.6" cy="1327.9" r="6.1" stroke-width="1.3"/><path d="M138.6,1327.5 v3.4 M138.6,1324.6 v1.3" stroke-width="1.25" stroke="rgba(204,204,220,0.55)"/></g><path d="M396.1,1604.7 L405,1596.3 M400.8,1604.7 L404.8,1601.3" stroke="rgba(204,204,220,0.36)" stroke-width="1.2" fill="none"/></svg><div class="pt" style="letter-spacing:0.59px">Queue Depth</div></div>
<div class="panel" style="left:415px;top:1311px;width:391px;height:296px"><svg class="viz" width="391" height="296" viewBox="415 1311 391 296"><path d="M415,1473.5L605.8,1473.5V1474H415Z" fill="#294030"/><path d="M415,1473.5L605.8,1473.5" fill="none" stroke="#5fa456" stroke-width="1" stroke-linejoin="round"/><path d="M612.2,1473.5L641.4,1473.5L650.2,1445.3L659.7,1445.3L668.5,1473.5L677,1473.5L685.8,1445.3L695.3,1445.3L704.1,1473.5L802,1473.5V1474H612.2Z" fill="#294030"/><path d="M612.2,1473.5L641.4,1473.5L650.2,1445.3L659.7,1445.3L668.5,1473.5L677,1473.5L685.8,1445.3L695.3,1445.3L704.1,1473.5L802,1473.5" fill="none" stroke="#5fa456" stroke-width="1" stroke-linejoin="round"/><path d="M415,1605.5L463.1,1605.5L472.2,1549.7L481.4,1605.5L489.8,1605.5L499,1549.7L517,1605.5L543.4,1605.5L552.2,1549.7L561.7,1605.5L605.8,1605.5V1606H415Z" fill="#294030"/><path d="M415,1605.5L463.1,1605.5L472.2,1549.7L481.4,1605.5L489.8,1605.5L499,1549.7L517,1605.5L543.4,1605.5L552.2,1549.7L561.7,1605.5L605.8,1605.5" fill="none" stroke="#5fa456" stroke-width="1" stroke-linejoin="round"/><path d="M612.2,1605.5L802,1605.5V1606H612.2Z" fill="#294030"/><path d="M612.2,1605.5L802,1605.5" fill="none" stroke="#5fa456" stroke-width="1" stroke-linejoin="round"/><text x="428.1" y="1371.03" textLength="146.1" lengthAdjust="spacing" style="font-size:16px">autoscalinglistener</text><text transform="translate(428.86 1416.23) scale(1.0541 1)" style="font-size:46.64px;fill:#73BF69;stroke:#73BF69;stroke-width:1.6px;stroke-linejoin:round">0</text><text x="624.1" y="1371.03" textLength="164" lengthAdjust="spacing" style="font-size:16px">autoscalingrunnerset</text><text transform="translate(624.86 1416.23) scale(1.0541 1)" style="font-size:46.64px;fill:#73BF69;stroke:#73BF69;stroke-width:1.6px;stroke-linejoin:round">1</text><text x="428.1" y="1504.03" textLength="132.9" lengthAdjust="spacing" style="font-size:16px">ephemeralrunner</text><text transform="translate(428.86 1549.23) scale(1.0541 1)" style="font-size:46.64px;fill:#73BF69;stroke:#73BF69;stroke-width:1.6px;stroke-linejoin:round">2</text><text x="624.1" y="1504.03" textLength="156.9" lengthAdjust="spacing" style="font-size:16px">ephemeralrunnerset</text><text transform="translate(624.86 1549.23) scale(1.0541 1)" style="font-size:46.64px;fill:#73BF69;stroke:#73BF69;stroke-width:1.6px;stroke-linejoin:round">0</text><g fill="none" stroke="rgba(204,204,220,0.68)"><circle cx="551.9" cy="1327.9" r="6.1" stroke-width="1.3"/><path d="M551.9,1327.5 v3.4 M551.9,1324.6 v1.3" stroke-width="1.25" stroke="rgba(204,204,220,0.55)"/></g><path d="M795.1,1604.7 L804,1596.3 M799.8,1604.7 L803.8,1601.3" stroke="rgba(204,204,220,0.36)" stroke-width="1.2" fill="none"/></svg><div class="pt" style="letter-spacing:0.74px">Active Workers</div></div>
<div class="panel" style="left:814px;top:1311px;width:392px;height:296px"><svg class="viz" width="392" height="296" viewBox="814 1311 392 296"><defs><clipPath id="c5"><rect x="840.2" y="1360" width="348.7" height="131"/></clipPath><clipPath id="c6"><rect x="815" y="1515" width="395" height="81.3"/></clipPath></defs><path d="M840.2,1372.5H1188.9M840.2,1392.5H1188.9M840.2,1411.5H1188.9M840.2,1431.5H1188.9M840.2,1451.5H1188.9M840.2,1470.5H1188.9M840.2,1490.5H1188.9" stroke="rgba(240,250,255,0.11)" stroke-width="1" fill="none"/><path d="M861.5,1360V1494.2M1182.5,1360V1494.2" stroke="rgba(240,250,255,0.11)" stroke-width="1" fill="none"/><text x="834.8" y="1375.8" text-anchor="end" textLength="7.44" lengthAdjust="spacing">6</text><text x="834.8" y="1395.5" text-anchor="end" textLength="7.2" lengthAdjust="spacing">5</text><text x="834.8" y="1415.1" text-anchor="end" textLength="7.68" lengthAdjust="spacing">4</text><text x="834.8" y="1434.7" text-anchor="end" textLength="7.44" lengthAdjust="spacing">3</text><text x="834.8" y="1454.3" text-anchor="end" textLength="7.2" lengthAdjust="spacing">2</text><text x="834.8" y="1473.9" text-anchor="end" textLength="6.44" lengthAdjust="spacing">1</text><text x="834.8" y="1493.6" text-anchor="end" textLength="7.56" lengthAdjust="spacing">0</text><text x="861" y="1508.6" text-anchor="middle" textLength="28.68" lengthAdjust="spacing">11:40</text><text x="1182.2" y="1508.6" text-anchor="middle" textLength="28.32" lengthAdjust="spacing">11:45</text><g clip-path="url(#c5)"><path d="M829.4,1485.59C834.75,1485.16 840.1,1484.3 845.45,1484.3C850.8,1484.3 856.15,1484.3 861.5,1484.3C866.85,1484.3 872.2,1484.3 877.55,1484.3C882.9,1484.3 888.25,1484.92 893.6,1485.27C898.95,1485.62 904.3,1485.92 909.65,1486.4C915,1486.88 920.35,1488.34 925.7,1488.34C931.05,1488.34 936.4,1487.69 941.75,1487.37C947.1,1487.05 952.45,1486.4 957.8,1486.4C963.15,1486.4 968.5,1486.4 973.85,1486.4C979.2,1486.4 984.55,1486.4 989.9,1486.4C995.25,1486.4 1000.6,1488.34 1005.95,1488.34C1011.3,1488.34 1016.65,1485.27 1022,1485.27C1027.35,1485.27 1032.7,1485.27 1038.05,1485.27C1043.4,1485.27 1048.75,1486.05 1054.1,1486.4C1059.45,1486.75 1064.8,1487.37 1070.15,1487.37C1075.5,1487.37 1080.85,1486.4 1086.2,1486.4C1091.55,1486.4 1096.9,1486.4 1102.25,1486.4C1107.6,1486.4 1112.95,1484.3 1118.3,1484.3C1123.65,1484.3 1129,1484.3 1134.35,1484.3C1139.7,1484.3 1145.05,1484.3 1150.4,1484.3C1155.75,1484.3 1161.1,1485.27 1166.45,1485.27C1171.8,1485.27 1177.15,1482.8 1182.5,1481.56L1182.5,1490.4 L829.4,1490.4 Z" fill="#73BF69" fill-opacity="0.33"/><path d="M829.4,1442.82C834.75,1440.02 840.1,1435 845.45,1434.42C850.8,1433.84 856.15,1433.88 861.5,1433.45C866.85,1433.02 872.2,1431.52 877.55,1431.52C882.9,1431.52 888.25,1444.09 893.6,1446.53C898.95,1448.97 904.3,1448.68 909.65,1451.37C915,1454.06 920.35,1475.42 925.7,1475.42C931.05,1475.42 936.4,1475.05 941.75,1474.46C947.1,1473.86 952.45,1462.35 957.8,1462.35C963.15,1462.35 968.5,1462.35 973.85,1462.35C979.2,1462.35 984.55,1461.38 989.9,1461.38C995.25,1461.38 1000.6,1473.65 1005.95,1473.65C1011.3,1473.65 1016.65,1464.27 1022,1462.35C1027.35,1460.43 1032.7,1458.47 1038.05,1458.47C1043.4,1458.47 1048.75,1459.65 1054.1,1460.57C1059.45,1461.49 1064.8,1462.75 1070.15,1464.61C1075.5,1466.47 1080.85,1473.65 1086.2,1473.65C1091.55,1473.65 1096.9,1472.24 1102.25,1470.42C1107.6,1468.6 1112.95,1453.21 1118.3,1452.5C1123.65,1451.79 1129,1451.96 1134.35,1451.37C1139.7,1450.78 1145.05,1447.34 1150.4,1447.34C1155.75,1447.34 1161.1,1465.58 1166.45,1465.58C1171.8,1465.58 1177.15,1452.13 1182.5,1445.4L1182.5,1481.56C1177.15,1482.8 1171.8,1485.27 1166.45,1485.27C1161.1,1485.27 1155.75,1484.3 1150.4,1484.3C1145.05,1484.3 1139.7,1484.3 1134.35,1484.3C1129,1484.3 1123.65,1484.3 1118.3,1484.3C1112.95,1484.3 1107.6,1486.4 1102.25,1486.4C1096.9,1486.4 1091.55,1486.4 1086.2,1486.4C1080.85,1486.4 1075.5,1487.37 1070.15,1487.37C1064.8,1487.37 1059.45,1486.75 1054.1,1486.4C1048.75,1486.05 1043.4,1485.27 1038.05,1485.27C1032.7,1485.27 1027.35,1485.27 1022,1485.27C1016.65,1485.27 1011.3,1488.34 1005.95,1488.34C1000.6,1488.34 995.25,1486.4 989.9,1486.4C984.55,1486.4 979.2,1486.4 973.85,1486.4C968.5,1486.4 963.15,1486.4 957.8,1486.4C952.45,1486.4 947.1,1487.05 941.75,1487.37C936.4,1487.69 931.05,1488.34 925.7,1488.34C920.35,1488.34 915,1486.88 909.65,1486.4C904.3,1485.92 898.95,1485.62 893.6,1485.27C888.25,1484.92 882.9,1484.3 877.55,1484.3C872.2,1484.3 866.85,1484.3 861.5,1484.3C856.15,1484.3 850.8,1484.3 845.45,1484.3C840.1,1484.3 834.75,1485.16 829.4,1485.59Z" fill="#F2CC0C" fill-opacity="0.33"/><path d="M829.4,1412.95C834.75,1408.49 840.1,1399.56 845.45,1399.56C850.8,1399.56 856.15,1399.56 861.5,1399.56C866.85,1399.56 872.2,1396.49 877.55,1396.49C882.9,1396.49 888.25,1419.77 893.6,1423.45C898.95,1427.13 904.3,1426.51 909.65,1430.39C915,1434.27 920.35,1466.55 925.7,1466.55C931.05,1466.55 936.4,1466.19 941.75,1465.58C947.1,1464.97 952.45,1448.47 957.8,1448.47C963.15,1448.47 968.5,1448.47 973.85,1448.47C979.2,1448.47 984.55,1445.4 989.9,1445.4C995.25,1445.4 1000.6,1462.51 1005.95,1462.51C1011.3,1462.51 1016.65,1450.51 1022,1447.34C1027.35,1444.16 1032.7,1440.4 1038.05,1440.4C1043.4,1440.4 1048.75,1443.73 1054.1,1445.4C1059.45,1447.07 1064.8,1447.86 1070.15,1450.4C1075.5,1452.95 1080.85,1466.55 1086.2,1466.55C1091.55,1466.55 1096.9,1464.34 1102.25,1461.38C1107.6,1458.42 1112.95,1429.42 1118.3,1429.42C1123.65,1429.42 1129,1429.42 1134.35,1429.42C1139.7,1429.42 1145.05,1421.51 1150.4,1421.51C1155.75,1421.51 1161.1,1451.37 1166.45,1451.37C1171.8,1451.37 1177.15,1432.11 1182.5,1422.48L1182.5,1445.4C1177.15,1452.13 1171.8,1465.58 1166.45,1465.58C1161.1,1465.58 1155.75,1447.34 1150.4,1447.34C1145.05,1447.34 1139.7,1450.78 1134.35,1451.37C1129,1451.96 1123.65,1451.79 1118.3,1452.5C1112.95,1453.21 1107.6,1468.6 1102.25,1470.42C1096.9,1472.24 1091.55,1473.65 1086.2,1473.65C1080.85,1473.65 1075.5,1466.47 1070.15,1464.61C1064.8,1462.75 1059.45,1461.49 1054.1,1460.57C1048.75,1459.65 1043.4,1458.47 1038.05,1458.47C1032.7,1458.47 1027.35,1460.43 1022,1462.35C1016.65,1464.27 1011.3,1473.65 1005.95,1473.65C1000.6,1473.65 995.25,1461.38 989.9,1461.38C984.55,1461.38 979.2,1462.35 973.85,1462.35C968.5,1462.35 963.15,1462.35 957.8,1462.35C952.45,1462.35 947.1,1473.86 941.75,1474.46C936.4,1475.05 931.05,1475.42 925.7,1475.42C920.35,1475.42 915,1454.06 909.65,1451.37C904.3,1448.68 898.95,1448.97 893.6,1446.53C888.25,1444.09 882.9,1431.52 877.55,1431.52C872.2,1431.52 866.85,1433.02 861.5,1433.45C856.15,1433.88 850.8,1433.84 845.45,1434.42C840.1,1435 834.75,1440.02 829.4,1442.82Z" fill="#8AB8FF" fill-opacity="0.33"/><path d="M829.4,1404.08C834.75,1399.23 840.1,1389.55 845.45,1389.55C850.8,1389.55 856.15,1389.55 861.5,1389.55C866.85,1389.55 872.2,1387.61 877.55,1387.61C882.9,1387.61 888.25,1414.9 893.6,1418.6C898.95,1422.31 904.3,1421.53 909.65,1425.38C915,1429.24 920.35,1464.61 925.7,1464.61C931.05,1464.61 936.4,1464.19 941.75,1463.48C947.1,1462.77 952.45,1445.4 957.8,1445.4C963.15,1445.4 968.5,1445.4 973.85,1445.4C979.2,1445.4 984.55,1441.53 989.9,1441.53C995.25,1441.53 1000.6,1460.57 1005.95,1460.57C1011.3,1460.57 1016.65,1448.25 1022,1444.43C1027.35,1440.61 1032.7,1435.55 1038.05,1435.55C1043.4,1435.55 1048.75,1440.52 1054.1,1442.49C1059.45,1444.47 1064.8,1445.01 1070.15,1447.66C1075.5,1450.31 1080.85,1464.93 1086.2,1464.93C1091.55,1464.93 1096.9,1463.02 1102.25,1460.25C1107.6,1457.48 1112.95,1423.45 1118.3,1423.45C1123.65,1423.45 1129,1423.45 1134.35,1423.45C1139.7,1423.45 1145.05,1414.57 1150.4,1414.57C1155.75,1414.57 1161.1,1449.44 1166.45,1449.44C1171.8,1449.44 1177.15,1428.13 1182.5,1417.47L1182.5,1422.48C1177.15,1432.11 1171.8,1451.37 1166.45,1451.37C1161.1,1451.37 1155.75,1421.51 1150.4,1421.51C1145.05,1421.51 1139.7,1429.42 1134.35,1429.42C1129,1429.42 1123.65,1429.42 1118.3,1429.42C1112.95,1429.42 1107.6,1458.42 1102.25,1461.38C1096.9,1464.34 1091.55,1466.55 1086.2,1466.55C1080.85,1466.55 1075.5,1452.95 1070.15,1450.4C1064.8,1447.86 1059.45,1447.07 1054.1,1445.4C1048.75,1443.73 1043.4,1440.4 1038.05,1440.4C1032.7,1440.4 1027.35,1444.16 1022,1447.34C1016.65,1450.51 1011.3,1462.51 1005.95,1462.51C1000.6,1462.51 995.25,1445.4 989.9,1445.4C984.55,1445.4 979.2,1448.47 973.85,1448.47C968.5,1448.47 963.15,1448.47 957.8,1448.47C952.45,1448.47 947.1,1464.97 941.75,1465.58C936.4,1466.19 931.05,1466.55 925.7,1466.55C920.35,1466.55 915,1434.27 909.65,1430.39C904.3,1426.51 898.95,1427.13 893.6,1423.45C888.25,1419.77 882.9,1396.49 877.55,1396.49C872.2,1396.49 866.85,1399.56 861.5,1399.56C856.15,1399.56 850.8,1399.56 845.45,1399.56C840.1,1399.56 834.75,1408.49 829.4,1412.95Z" fill="#FF780A" fill-opacity="0.33"/><path d="M829.4,1392.29C834.75,1385.89 840.1,1373.08 845.45,1373.08C850.8,1373.08 856.15,1375.99 861.5,1375.99C866.85,1375.99 872.2,1375.99 877.55,1375.99C882.9,1375.99 888.25,1403.74 893.6,1408.92C898.95,1414.1 904.3,1413.63 909.65,1419.09C915,1424.54 920.35,1460.9 925.7,1460.9C931.05,1460.9 936.4,1460.9 941.75,1460.9C947.1,1460.9 952.45,1440.72 957.8,1440.72C963.15,1440.72 968.5,1440.72 973.85,1440.72C979.2,1440.72 984.55,1436.84 989.9,1436.84C995.25,1436.84 1000.6,1457.67 1005.95,1457.67C1011.3,1457.67 1016.65,1443.56 1022,1439.59C1027.35,1435.62 1032.7,1430.71 1038.05,1430.71C1043.4,1430.71 1048.75,1436.49 1054.1,1438.78C1059.45,1441.07 1064.8,1441.69 1070.15,1444.75C1075.5,1447.82 1080.85,1464.77 1086.2,1464.77C1091.55,1464.77 1096.9,1459.54 1102.25,1453.79C1107.6,1448.05 1112.95,1413.76 1118.3,1413.76C1123.65,1413.76 1129,1413.76 1134.35,1413.76C1139.7,1413.76 1145.05,1406.82 1150.4,1406.82C1155.75,1406.82 1161.1,1445.72 1166.45,1445.72C1171.8,1445.72 1177.15,1423.12 1182.5,1411.82L1182.5,1417.47C1177.15,1428.13 1171.8,1449.44 1166.45,1449.44C1161.1,1449.44 1155.75,1414.57 1150.4,1414.57C1145.05,1414.57 1139.7,1423.45 1134.35,1423.45C1129,1423.45 1123.65,1423.45 1118.3,1423.45C1112.95,1423.45 1107.6,1457.48 1102.25,1460.25C1096.9,1463.02 1091.55,1464.93 1086.2,1464.93C1080.85,1464.93 1075.5,1450.31 1070.15,1447.66C1064.8,1445.01 1059.45,1444.47 1054.1,1442.49C1048.75,1440.52 1043.4,1435.55 1038.05,1435.55C1032.7,1435.55 1027.35,1440.61 1022,1444.43C1016.65,1448.25 1011.3,1460.57 1005.95,1460.57C1000.6,1460.57 995.25,1441.53 989.9,1441.53C984.55,1441.53 979.2,1445.4 973.85,1445.4C968.5,1445.4 963.15,1445.4 957.8,1445.4C952.45,1445.4 947.1,1462.77 941.75,1463.48C936.4,1464.19 931.05,1464.61 925.7,1464.61C920.35,1464.61 915,1429.24 909.65,1425.38C904.3,1421.53 898.95,1422.31 893.6,1418.6C888.25,1414.9 882.9,1387.61 877.55,1387.61C872.2,1387.61 866.85,1389.55 861.5,1389.55C856.15,1389.55 850.8,1389.55 845.45,1389.55C840.1,1389.55 834.75,1399.23 829.4,1404.08Z" fill="#F2495C" fill-opacity="0.33"/><path d="M829.4,1391.97C834.75,1385.51 840.1,1372.6 845.45,1372.6C850.8,1372.6 856.15,1375.5 861.5,1375.5C866.85,1375.5 872.2,1375.5 877.55,1375.5C882.9,1375.5 888.25,1403.25 893.6,1408.43C898.95,1413.61 904.3,1413.15 909.65,1418.6C915,1424.06 920.35,1460.57 925.7,1460.57C931.05,1460.57 936.4,1460.57 941.75,1460.57C947.1,1460.57 952.45,1440.4 957.8,1440.4C963.15,1440.4 968.5,1440.4 973.85,1440.4C979.2,1440.4 984.55,1436.52 989.9,1436.52C995.25,1436.52 1000.6,1457.34 1005.95,1457.34C1011.3,1457.34 1016.65,1443.23 1022,1439.27C1027.35,1435.3 1032.7,1430.39 1038.05,1430.39C1043.4,1430.39 1048.75,1436.17 1054.1,1438.46C1059.45,1440.75 1064.8,1441.36 1070.15,1444.43C1075.5,1447.5 1080.85,1464.61 1086.2,1464.61C1091.55,1464.61 1096.9,1459.28 1102.25,1453.47C1107.6,1447.66 1112.95,1413.44 1118.3,1413.44C1123.65,1413.44 1129,1413.44 1134.35,1413.44C1139.7,1413.44 1145.05,1406.5 1150.4,1406.5C1155.75,1406.5 1161.1,1445.4 1166.45,1445.4C1171.8,1445.4 1177.15,1422.8 1182.5,1411.5L1182.5,1411.82C1177.15,1423.12 1171.8,1445.72 1166.45,1445.72C1161.1,1445.72 1155.75,1406.82 1150.4,1406.82C1145.05,1406.82 1139.7,1413.76 1134.35,1413.76C1129,1413.76 1123.65,1413.76 1118.3,1413.76C1112.95,1413.76 1107.6,1448.05 1102.25,1453.79C1096.9,1459.54 1091.55,1464.77 1086.2,1464.77C1080.85,1464.77 1075.5,1447.82 1070.15,1444.75C1064.8,1441.69 1059.45,1441.07 1054.1,1438.78C1048.75,1436.49 1043.4,1430.71 1038.05,1430.71C1032.7,1430.71 1027.35,1435.62 1022,1439.59C1016.65,1443.56 1011.3,1457.67 1005.95,1457.67C1000.6,1457.67 995.25,1436.84 989.9,1436.84C984.55,1436.84 979.2,1440.72 973.85,1440.72C968.5,1440.72 963.15,1440.72 957.8,1440.72C952.45,1440.72 947.1,1460.9 941.75,1460.9C936.4,1460.9 931.05,1460.9 925.7,1460.9C920.35,1460.9 915,1424.54 909.65,1419.09C904.3,1413.63 898.95,1414.1 893.6,1408.92C888.25,1403.74 882.9,1375.99 877.55,1375.99C872.2,1375.99 866.85,1375.99 861.5,1375.99C856.15,1375.99 850.8,1373.08 845.45,1373.08C840.1,1373.08 834.75,1385.89 829.4,1392.29Z" fill="#B877D9" fill-opacity="0.33"/><path d="M829.4,1485.59C834.75,1485.16 840.1,1484.3 845.45,1484.3C850.8,1484.3 856.15,1484.3 861.5,1484.3C866.85,1484.3 872.2,1484.3 877.55,1484.3C882.9,1484.3 888.25,1484.92 893.6,1485.27C898.95,1485.62 904.3,1485.92 909.65,1486.4C915,1486.88 920.35,1488.34 925.7,1488.34C931.05,1488.34 936.4,1487.69 941.75,1487.37C947.1,1487.05 952.45,1486.4 957.8,1486.4C963.15,1486.4 968.5,1486.4 973.85,1486.4C979.2,1486.4 984.55,1486.4 989.9,1486.4C995.25,1486.4 1000.6,1488.34 1005.95,1488.34C1011.3,1488.34 1016.65,1485.27 1022,1485.27C1027.35,1485.27 1032.7,1485.27 1038.05,1485.27C1043.4,1485.27 1048.75,1486.05 1054.1,1486.4C1059.45,1486.75 1064.8,1487.37 1070.15,1487.37C1075.5,1487.37 1080.85,1486.4 1086.2,1486.4C1091.55,1486.4 1096.9,1486.4 1102.25,1486.4C1107.6,1486.4 1112.95,1484.3 1118.3,1484.3C1123.65,1484.3 1129,1484.3 1134.35,1484.3C1139.7,1484.3 1145.05,1484.3 1150.4,1484.3C1155.75,1484.3 1161.1,1485.27 1166.45,1485.27C1171.8,1485.27 1177.15,1482.8 1182.5,1481.56" fill="none" stroke="#73BF69" stroke-width="1.1"/><g fill="#73BF69"><circle cx="845.45" cy="1484.3" r="2.5"/><circle cx="861.5" cy="1484.3" r="2.5"/><circle cx="877.55" cy="1484.3" r="2.5"/><circle cx="893.6" cy="1485.27" r="2.5"/><circle cx="909.65" cy="1486.4" r="2.5"/><circle cx="925.7" cy="1488.34" r="2.5"/><circle cx="941.75" cy="1487.37" r="2.5"/><circle cx="957.8" cy="1486.4" r="2.5"/><circle cx="973.85" cy="1486.4" r="2.5"/><circle cx="989.9" cy="1486.4" r="2.5"/><circle cx="1005.95" cy="1488.34" r="2.5"/><circle cx="1022" cy="1485.27" r="2.5"/><circle cx="1038.05" cy="1485.27" r="2.5"/><circle cx="1054.1" cy="1486.4" r="2.5"/><circle cx="1070.15" cy="1487.37" r="2.5"/><circle cx="1086.2" cy="1486.4" r="2.5"/><circle cx="1102.25" cy="1486.4" r="2.5"/><circle cx="1118.3" cy="1484.3" r="2.5"/><circle cx="1134.35" cy="1484.3" r="2.5"/><circle cx="1150.4" cy="1484.3" r="2.5"/><circle cx="1166.45" cy="1485.27" r="2.5"/><circle cx="1182.5" cy="1481.56" r="2.5"/></g><path d="M829.4,1442.82C834.75,1440.02 840.1,1435 845.45,1434.42C850.8,1433.84 856.15,1433.88 861.5,1433.45C866.85,1433.02 872.2,1431.52 877.55,1431.52C882.9,1431.52 888.25,1444.09 893.6,1446.53C898.95,1448.97 904.3,1448.68 909.65,1451.37C915,1454.06 920.35,1475.42 925.7,1475.42C931.05,1475.42 936.4,1475.05 941.75,1474.46C947.1,1473.86 952.45,1462.35 957.8,1462.35C963.15,1462.35 968.5,1462.35 973.85,1462.35C979.2,1462.35 984.55,1461.38 989.9,1461.38C995.25,1461.38 1000.6,1473.65 1005.95,1473.65C1011.3,1473.65 1016.65,1464.27 1022,1462.35C1027.35,1460.43 1032.7,1458.47 1038.05,1458.47C1043.4,1458.47 1048.75,1459.65 1054.1,1460.57C1059.45,1461.49 1064.8,1462.75 1070.15,1464.61C1075.5,1466.47 1080.85,1473.65 1086.2,1473.65C1091.55,1473.65 1096.9,1472.24 1102.25,1470.42C1107.6,1468.6 1112.95,1453.21 1118.3,1452.5C1123.65,1451.79 1129,1451.96 1134.35,1451.37C1139.7,1450.78 1145.05,1447.34 1150.4,1447.34C1155.75,1447.34 1161.1,1465.58 1166.45,1465.58C1171.8,1465.58 1177.15,1452.13 1182.5,1445.4" fill="none" stroke="#F2CC0C" stroke-width="1.1"/><g fill="#F2CC0C"><circle cx="845.45" cy="1434.42" r="2.5"/><circle cx="861.5" cy="1433.45" r="2.5"/><circle cx="877.55" cy="1431.52" r="2.5"/><circle cx="893.6" cy="1446.53" r="2.5"/><circle cx="909.65" cy="1451.37" r="2.5"/><circle cx="925.7" cy="1475.42" r="2.5"/><circle cx="941.75" cy="1474.46" r="2.5"/><circle cx="957.8" cy="1462.35" r="2.5"/><circle cx="973.85" cy="1462.35" r="2.5"/><circle cx="989.9" cy="1461.38" r="2.5"/><circle cx="1005.95" cy="1473.65" r="2.5"/><circle cx="1022" cy="1462.35" r="2.5"/><circle cx="1038.05" cy="1458.47" r="2.5"/><circle cx="1054.1" cy="1460.57" r="2.5"/><circle cx="1070.15" cy="1464.61" r="2.5"/><circle cx="1086.2" cy="1473.65" r="2.5"/><circle cx="1102.25" cy="1470.42" r="2.5"/><circle cx="1118.3" cy="1452.5" r="2.5"/><circle cx="1134.35" cy="1451.37" r="2.5"/><circle cx="1150.4" cy="1447.34" r="2.5"/><circle cx="1166.45" cy="1465.58" r="2.5"/><circle cx="1182.5" cy="1445.4" r="2.5"/></g><path d="M829.4,1412.95C834.75,1408.49 840.1,1399.56 845.45,1399.56C850.8,1399.56 856.15,1399.56 861.5,1399.56C866.85,1399.56 872.2,1396.49 877.55,1396.49C882.9,1396.49 888.25,1419.77 893.6,1423.45C898.95,1427.13 904.3,1426.51 909.65,1430.39C915,1434.27 920.35,1466.55 925.7,1466.55C931.05,1466.55 936.4,1466.19 941.75,1465.58C947.1,1464.97 952.45,1448.47 957.8,1448.47C963.15,1448.47 968.5,1448.47 973.85,1448.47C979.2,1448.47 984.55,1445.4 989.9,1445.4C995.25,1445.4 1000.6,1462.51 1005.95,1462.51C1011.3,1462.51 1016.65,1450.51 1022,1447.34C1027.35,1444.16 1032.7,1440.4 1038.05,1440.4C1043.4,1440.4 1048.75,1443.73 1054.1,1445.4C1059.45,1447.07 1064.8,1447.86 1070.15,1450.4C1075.5,1452.95 1080.85,1466.55 1086.2,1466.55C1091.55,1466.55 1096.9,1464.34 1102.25,1461.38C1107.6,1458.42 1112.95,1429.42 1118.3,1429.42C1123.65,1429.42 1129,1429.42 1134.35,1429.42C1139.7,1429.42 1145.05,1421.51 1150.4,1421.51C1155.75,1421.51 1161.1,1451.37 1166.45,1451.37C1171.8,1451.37 1177.15,1432.11 1182.5,1422.48" fill="none" stroke="#8AB8FF" stroke-width="1.1"/><g fill="#8AB8FF"><circle cx="845.45" cy="1399.56" r="2.5"/><circle cx="861.5" cy="1399.56" r="2.5"/><circle cx="877.55" cy="1396.49" r="2.5"/><circle cx="893.6" cy="1423.45" r="2.5"/><circle cx="909.65" cy="1430.39" r="2.5"/><circle cx="925.7" cy="1466.55" r="2.5"/><circle cx="941.75" cy="1465.58" r="2.5"/><circle cx="957.8" cy="1448.47" r="2.5"/><circle cx="973.85" cy="1448.47" r="2.5"/><circle cx="989.9" cy="1445.4" r="2.5"/><circle cx="1005.95" cy="1462.51" r="2.5"/><circle cx="1022" cy="1447.34" r="2.5"/><circle cx="1038.05" cy="1440.4" r="2.5"/><circle cx="1054.1" cy="1445.4" r="2.5"/><circle cx="1070.15" cy="1450.4" r="2.5"/><circle cx="1086.2" cy="1466.55" r="2.5"/><circle cx="1102.25" cy="1461.38" r="2.5"/><circle cx="1118.3" cy="1429.42" r="2.5"/><circle cx="1134.35" cy="1429.42" r="2.5"/><circle cx="1150.4" cy="1421.51" r="2.5"/><circle cx="1166.45" cy="1451.37" r="2.5"/><circle cx="1182.5" cy="1422.48" r="2.5"/></g><path d="M829.4,1404.08C834.75,1399.23 840.1,1389.55 845.45,1389.55C850.8,1389.55 856.15,1389.55 861.5,1389.55C866.85,1389.55 872.2,1387.61 877.55,1387.61C882.9,1387.61 888.25,1414.9 893.6,1418.6C898.95,1422.31 904.3,1421.53 909.65,1425.38C915,1429.24 920.35,1464.61 925.7,1464.61C931.05,1464.61 936.4,1464.19 941.75,1463.48C947.1,1462.77 952.45,1445.4 957.8,1445.4C963.15,1445.4 968.5,1445.4 973.85,1445.4C979.2,1445.4 984.55,1441.53 989.9,1441.53C995.25,1441.53 1000.6,1460.57 1005.95,1460.57C1011.3,1460.57 1016.65,1448.25 1022,1444.43C1027.35,1440.61 1032.7,1435.55 1038.05,1435.55C1043.4,1435.55 1048.75,1440.52 1054.1,1442.49C1059.45,1444.47 1064.8,1445.01 1070.15,1447.66C1075.5,1450.31 1080.85,1464.93 1086.2,1464.93C1091.55,1464.93 1096.9,1463.02 1102.25,1460.25C1107.6,1457.48 1112.95,1423.45 1118.3,1423.45C1123.65,1423.45 1129,1423.45 1134.35,1423.45C1139.7,1423.45 1145.05,1414.57 1150.4,1414.57C1155.75,1414.57 1161.1,1449.44 1166.45,1449.44C1171.8,1449.44 1177.15,1428.13 1182.5,1417.47" fill="none" stroke="#FF780A" stroke-width="1.1"/><g fill="#FF780A"><circle cx="845.45" cy="1389.55" r="2.5"/><circle cx="861.5" cy="1389.55" r="2.5"/><circle cx="877.55" cy="1387.61" r="2.5"/><circle cx="893.6" cy="1418.6" r="2.5"/><circle cx="909.65" cy="1425.38" r="2.5"/><circle cx="925.7" cy="1464.61" r="2.5"/><circle cx="941.75" cy="1463.48" r="2.5"/><circle cx="957.8" cy="1445.4" r="2.5"/><circle cx="973.85" cy="1445.4" r="2.5"/><circle cx="989.9" cy="1441.53" r="2.5"/><circle cx="1005.95" cy="1460.57" r="2.5"/><circle cx="1022" cy="1444.43" r="2.5"/><circle cx="1038.05" cy="1435.55" r="2.5"/><circle cx="1054.1" cy="1442.49" r="2.5"/><circle cx="1070.15" cy="1447.66" r="2.5"/><circle cx="1086.2" cy="1464.93" r="2.5"/><circle cx="1102.25" cy="1460.25" r="2.5"/><circle cx="1118.3" cy="1423.45" r="2.5"/><circle cx="1134.35" cy="1423.45" r="2.5"/><circle cx="1150.4" cy="1414.57" r="2.5"/><circle cx="1166.45" cy="1449.44" r="2.5"/><circle cx="1182.5" cy="1417.47" r="2.5"/></g><path d="M829.4,1392.29C834.75,1385.89 840.1,1373.08 845.45,1373.08C850.8,1373.08 856.15,1375.99 861.5,1375.99C866.85,1375.99 872.2,1375.99 877.55,1375.99C882.9,1375.99 888.25,1403.74 893.6,1408.92C898.95,1414.1 904.3,1413.63 909.65,1419.09C915,1424.54 920.35,1460.9 925.7,1460.9C931.05,1460.9 936.4,1460.9 941.75,1460.9C947.1,1460.9 952.45,1440.72 957.8,1440.72C963.15,1440.72 968.5,1440.72 973.85,1440.72C979.2,1440.72 984.55,1436.84 989.9,1436.84C995.25,1436.84 1000.6,1457.67 1005.95,1457.67C1011.3,1457.67 1016.65,1443.56 1022,1439.59C1027.35,1435.62 1032.7,1430.71 1038.05,1430.71C1043.4,1430.71 1048.75,1436.49 1054.1,1438.78C1059.45,1441.07 1064.8,1441.69 1070.15,1444.75C1075.5,1447.82 1080.85,1464.77 1086.2,1464.77C1091.55,1464.77 1096.9,1459.54 1102.25,1453.79C1107.6,1448.05 1112.95,1413.76 1118.3,1413.76C1123.65,1413.76 1129,1413.76 1134.35,1413.76C1139.7,1413.76 1145.05,1406.82 1150.4,1406.82C1155.75,1406.82 1161.1,1445.72 1166.45,1445.72C1171.8,1445.72 1177.15,1423.12 1182.5,1411.82" fill="none" stroke="#F2495C" stroke-width="1.1"/><g fill="#F2495C"><circle cx="845.45" cy="1373.08" r="2.5"/><circle cx="861.5" cy="1375.99" r="2.5"/><circle cx="877.55" cy="1375.99" r="2.5"/><circle cx="893.6" cy="1408.92" r="2.5"/><circle cx="909.65" cy="1419.09" r="2.5"/><circle cx="925.7" cy="1460.9" r="2.5"/><circle cx="941.75" cy="1460.9" r="2.5"/><circle cx="957.8" cy="1440.72" r="2.5"/><circle cx="973.85" cy="1440.72" r="2.5"/><circle cx="989.9" cy="1436.84" r="2.5"/><circle cx="1005.95" cy="1457.67" r="2.5"/><circle cx="1022" cy="1439.59" r="2.5"/><circle cx="1038.05" cy="1430.71" r="2.5"/><circle cx="1054.1" cy="1438.78" r="2.5"/><circle cx="1070.15" cy="1444.75" r="2.5"/><circle cx="1086.2" cy="1464.77" r="2.5"/><circle cx="1102.25" cy="1453.79" r="2.5"/><circle cx="1118.3" cy="1413.76" r="2.5"/><circle cx="1134.35" cy="1413.76" r="2.5"/><circle cx="1150.4" cy="1406.82" r="2.5"/><circle cx="1166.45" cy="1445.72" r="2.5"/><circle cx="1182.5" cy="1411.82" r="2.5"/></g><path d="M829.4,1391.97C834.75,1385.51 840.1,1372.6 845.45,1372.6C850.8,1372.6 856.15,1375.5 861.5,1375.5C866.85,1375.5 872.2,1375.5 877.55,1375.5C882.9,1375.5 888.25,1403.25 893.6,1408.43C898.95,1413.61 904.3,1413.15 909.65,1418.6C915,1424.06 920.35,1460.57 925.7,1460.57C931.05,1460.57 936.4,1460.57 941.75,1460.57C947.1,1460.57 952.45,1440.4 957.8,1440.4C963.15,1440.4 968.5,1440.4 973.85,1440.4C979.2,1440.4 984.55,1436.52 989.9,1436.52C995.25,1436.52 1000.6,1457.34 1005.95,1457.34C1011.3,1457.34 1016.65,1443.23 1022,1439.27C1027.35,1435.3 1032.7,1430.39 1038.05,1430.39C1043.4,1430.39 1048.75,1436.17 1054.1,1438.46C1059.45,1440.75 1064.8,1441.36 1070.15,1444.43C1075.5,1447.5 1080.85,1464.61 1086.2,1464.61C1091.55,1464.61 1096.9,1459.28 1102.25,1453.47C1107.6,1447.66 1112.95,1413.44 1118.3,1413.44C1123.65,1413.44 1129,1413.44 1134.35,1413.44C1139.7,1413.44 1145.05,1406.5 1150.4,1406.5C1155.75,1406.5 1161.1,1445.4 1166.45,1445.4C1171.8,1445.4 1177.15,1422.8 1182.5,1411.5" fill="none" stroke="#B877D9" stroke-width="1.1"/><g fill="#B877D9"><circle cx="845.45" cy="1372.6" r="2.5"/><circle cx="861.5" cy="1375.5" r="2.5"/><circle cx="877.55" cy="1375.5" r="2.5"/><circle cx="893.6" cy="1408.43" r="2.5"/><circle cx="909.65" cy="1418.6" r="2.5"/><circle cx="925.7" cy="1460.57" r="2.5"/><circle cx="941.75" cy="1460.57" r="2.5"/><circle cx="957.8" cy="1440.4" r="2.5"/><circle cx="973.85" cy="1440.4" r="2.5"/><circle cx="989.9" cy="1436.52" r="2.5"/><circle cx="1005.95" cy="1457.34" r="2.5"/><circle cx="1022" cy="1439.27" r="2.5"/><circle cx="1038.05" cy="1430.39" r="2.5"/><circle cx="1054.1" cy="1438.46" r="2.5"/><circle cx="1070.15" cy="1444.43" r="2.5"/><circle cx="1086.2" cy="1464.61" r="2.5"/><circle cx="1102.25" cy="1453.47" r="2.5"/><circle cx="1118.3" cy="1413.44" r="2.5"/><circle cx="1134.35" cy="1413.44" r="2.5"/><circle cx="1150.4" cy="1406.5" r="2.5"/><circle cx="1166.45" cy="1445.4" r="2.5"/><circle cx="1182.5" cy="1411.5" r="2.5"/></g></g><g clip-path="url(#c6)"><rect x="827.4" y="1527.1" width="14" height="4" rx="2" fill="#73BF69"/><text x="849.4" y="1533.4" textLength="196.5" lengthAdjust="spacing">{code=&quot;200&quot;, method=&quot;DELETE&quot;}</text><rect x="827.4" y="1550.6" width="14" height="4" rx="2" fill="#F2CC0C"/><text x="849.4" y="1556.9" textLength="175" lengthAdjust="spacing">{code=&quot;200&quot;, method=&quot;GET&quot;}</text><rect x="827.4" y="1574.1" width="14" height="4" rx="2" fill="#8AB8FF"/><text x="849.4" y="1580.4" textLength="190.5" lengthAdjust="spacing">{code=&quot;200&quot;, method=&quot;PATCH&quot;}</text><rect x="827.4" y="1597.6" width="14" height="4" rx="2" fill="#FF780A"/><text x="849.4" y="1603.9" textLength="180" lengthAdjust="spacing">{code=&quot;201&quot;, method=&quot;POST&quot;}</text></g><g fill="none" stroke="rgba(204,204,220,0.68)"><circle cx="908" cy="1327.9" r="6.1" stroke-width="1.3"/><path d="M908,1327.5 v3.4 M908,1324.6 v1.3" stroke-width="1.25" stroke="rgba(204,204,220,0.55)"/></g><path d="M1195.1,1604.7 L1204,1596.3 M1199.8,1604.7 L1203.8,1601.3" stroke="rgba(204,204,220,0.36)" stroke-width="1.2" fill="none"/></svg><div class="pt" style="letter-spacing:0.38px">API Calls</div></div>
<div class="panel" style="left:16px;top:1653px;width:1190px;height:372px"><svg class="viz" width="1190" height="372" viewBox="16 1653 1190 372"><defs><clipPath id="c7"><rect x="57.4" y="1698.3" width="1112.8" height="243.7"/></clipPath></defs><path d="M57.4,1702.5H1188.4M57.4,1741.5H1188.4M57.4,1781.5H1188.4M57.4,1821.5H1188.4M57.4,1860.5H1188.4M57.4,1900.5H1188.4M57.4,1939.5H1188.4" stroke="rgba(240,250,255,0.11)" stroke-width="1" fill="none"/><path d="M126.5,1702.3V1944M230.5,1702.3V1944M334.5,1702.3V1944M439.5,1702.3V1944M543.5,1702.3V1944M647.5,1702.3V1944M752.5,1702.3V1944M856.5,1702.3V1944M960.5,1702.3V1944M1065.5,1702.3V1944M1169.5,1702.3V1944" stroke="rgba(240,250,255,0.11)" stroke-width="1" fill="none"/><text x="51.6" y="1705.5" text-anchor="end" textLength="21.89" lengthAdjust="spacing">12 s</text><text x="51.6" y="1745.1" text-anchor="end" textLength="22.2" lengthAdjust="spacing">10 s</text><text x="51.6" y="1784.7" text-anchor="end" textLength="17.04" lengthAdjust="spacing">8 s</text><text x="51.6" y="1824.3" text-anchor="end" textLength="17.04" lengthAdjust="spacing">6 s</text><text x="51.6" y="1863.9" text-anchor="end" textLength="17.28" lengthAdjust="spacing">4 s</text><text x="51.6" y="1903.5" text-anchor="end" textLength="16.8" lengthAdjust="spacing">2 s</text><text x="51.6" y="1943.1" text-anchor="end" textLength="17.16" lengthAdjust="spacing">0 s</text><text x="125.9" y="1959.1" text-anchor="middle" textLength="47.16" lengthAdjust="spacing">11:40:00</text><text x="230.19" y="1959.1" text-anchor="middle" textLength="47.04" lengthAdjust="spacing">11:40:30</text><text x="334.48" y="1959.1" text-anchor="middle" textLength="44.64" lengthAdjust="spacing">11:41:00</text><text x="438.77" y="1959.1" text-anchor="middle" textLength="44.52" lengthAdjust="spacing">11:41:30</text><text x="543.06" y="1959.1" text-anchor="middle" textLength="46.8" lengthAdjust="spacing">11:42:00</text><text x="647.35" y="1959.1" text-anchor="middle" textLength="46.68" lengthAdjust="spacing">11:42:30</text><text x="751.64" y="1959.1" text-anchor="middle" textLength="47.04" lengthAdjust="spacing">11:43:00</text><text x="855.93" y="1959.1" text-anchor="middle" textLength="46.92" lengthAdjust="spacing">11:43:30</text><text x="960.22" y="1959.1" text-anchor="middle" textLength="47.28" lengthAdjust="spacing">11:44:00</text><text x="1064.51" y="1959.1" text-anchor="middle" textLength="47.16" lengthAdjust="spacing">11:44:30</text><text x="1168.8" y="1959.1" text-anchor="middle" textLength="46.8" lengthAdjust="spacing">11:45:00</text><g clip-path="url(#c7)"><path d="M22.11,1938.5L74.26,1938.5L126.4,1938.5L178.54,1937.92L230.69,1922.48L282.83,1938.32L334.98,1938.32L387.12,1938.5L439.27,1938.5L491.41,1938.5L543.56,1938.5L595.7,1938.5L647.85,1938.5L699.99,1938.5L752.13,1938.5L804.28,1938.5L856.42,1938.5L908.57,1938.5L960.71,1938.5L1012.86,1938.5L1065,1938.5L1117.15,1938.5L1169.29,1938.5" fill="none" stroke="#73BF69" stroke-width="1.15" stroke-linejoin="round"/><path d="M22.11,1938.5L74.26,1938.5L126.4,1938.5L178.54,1936.93L230.69,1934.55L282.83,1831.4L334.98,1831.4L387.12,1937.92L439.27,1937.92L491.41,1934.55L543.56,1934.55L595.7,1938.91L647.85,1938.5L699.99,1938.5L752.13,1938.5L804.28,1938.5L856.42,1938.5L908.57,1938.5L960.71,1938.5L1012.86,1938.5L1065,1938.5L1117.15,1938.5L1169.29,1938.5" fill="none" stroke="#F2CC0C" stroke-width="1.15" stroke-linejoin="round"/><path d="M22.11,1939.5L74.26,1939.5L126.4,1939.5L178.54,1939.5L230.69,1939.5L282.83,1939.5L334.98,1939.5L387.12,1939.5L439.27,1937.92L491.41,1931.58L543.56,1931.58L595.7,1931.58L647.85,1931.58L699.99,1936.93L752.13,1936.93L804.28,1936.93L856.42,1936.93L908.57,1938.91L960.71,1939.5L1012.86,1939.5L1065,1939.5L1117.15,1939.5L1169.29,1939.5" fill="none" stroke="#8AB8FF" stroke-width="1.15" stroke-linejoin="round"/><path d="M22.11,1938.5L74.26,1938.5L126.4,1938.5L178.54,1938.5L230.69,1938.5L282.83,1938.5L334.98,1938.5L387.12,1938.5L439.27,1938.5L491.41,1938.91L543.56,1913.37L595.7,1939.31L647.85,1938.5L699.99,1938.5L752.13,1938.5L804.28,1937.92L856.42,1938.91L908.57,1938.5L960.71,1938.5L1012.86,1938.5L1065,1938.5L1117.15,1938.5L1169.29,1938.5" fill="none" stroke="#FF780A" stroke-width="1.15" stroke-linejoin="round"/><path d="M22.11,1939.5L74.26,1939.5L126.4,1939.5L178.54,1939.5L230.69,1939.5L282.83,1939.5L334.98,1939.5L387.12,1939.5L439.27,1939.5L491.41,1939.5L543.56,1939.5L595.7,1939.5L647.85,1939.5L699.99,1939.5L752.13,1939.5L804.28,1939.5L856.42,1939.5L908.57,1939.5L960.71,1939.5L1012.86,1939.5L1065,1939.5L1117.15,1939.5L1169.29,1939.5" fill="none" stroke="#F2495C" stroke-width="1.15" stroke-linejoin="round"/><path d="M22.11,1939.5L74.26,1939.5L126.4,1939.5L178.54,1939.5L230.69,1939.5L282.83,1939.5L334.98,1939.5L387.12,1939.5L439.27,1939.5L491.41,1939.5L543.56,1939.5L595.7,1939.5L647.85,1939.5L699.99,1939.5L752.13,1939.5L804.28,1939.5L856.42,1939.5L908.57,1939.5L960.71,1939.5L1012.86,1939.5L1065,1939.5L1117.15,1939.5L1169.29,1939.5" fill="none" stroke="#B877D9" stroke-width="1.15" stroke-linejoin="round"/><path d="M22.11,1939.5L74.26,1939.5L126.4,1939.5L178.54,1939.5L230.69,1939.5L282.83,1939.5L334.98,1939.5L387.12,1939.5L439.27,1939.5L491.41,1939.5L543.56,1939.5L595.7,1939.5L647.85,1939.5L699.99,1939.5L752.13,1939.5L804.28,1939.5L856.42,1939.5L908.57,1939.5L960.71,1939.5L1012.86,1939.5L1065,1939.5L1117.15,1939.5L1169.29,1939.5" fill="none" stroke="#705DA0" stroke-width="1.15" stroke-linejoin="round"/><path d="M22.11,1939.5L74.26,1939.5L126.4,1939.5L178.54,1939.5L230.69,1939.5L282.83,1939.5L334.98,1939.5L387.12,1939.5L439.27,1939.5L491.41,1939.5L543.56,1939.5L595.7,1939.5L647.85,1939.5L699.99,1939.5L752.13,1939.5L804.28,1939.5L856.42,1939.5L908.57,1939.5L960.71,1939.5L1012.86,1939.5L1065,1939.5L1117.15,1939.5L1169.29,1939.5" fill="none" stroke="#447EBC" stroke-width="1.15" stroke-linejoin="round"/><path d="M22.11,1939.5L74.26,1939.5L126.4,1939.5L178.54,1939.5L230.69,1939.5L282.83,1939.5L334.98,1939.5L387.12,1939.5L439.27,1939.5L491.41,1939.5L543.56,1939.5L595.7,1939.5L647.85,1939.5L699.99,1939.5L752.13,1939.5L804.28,1939.5L856.42,1939.5L908.57,1939.5L960.71,1939.5L1012.86,1939.5L1065,1939.5L1117.15,1939.5L1169.29,1939.5" fill="none" stroke="#5794F2" stroke-width="1.15" stroke-linejoin="round"/><path d="M22.11,1938.5L74.26,1938.5L126.4,1938.5L178.54,1938.5L230.69,1938.5L282.83,1938.5L334.98,1938.5L387.12,1928.22L439.27,1928.22L491.41,1928.22L543.56,1928.22L595.7,1784.27L647.85,1784.27L699.99,1784.27L752.13,1784.27L804.28,1741.9L856.42,1741.9L908.57,1741.9L960.71,1741.9L1012.86,1939.5L1065,1939.5L1117.15,1939.5L1169.29,1939.5" fill="none" stroke="#37872D" stroke-width="1.15" stroke-linejoin="round"/><path d="M126.4,1938.5L178.54,1938.5L230.69,1938.5L282.83,1938.5L334.98,1938.5L387.12,1938.5L439.27,1938.5L491.41,1938.5L543.56,1937.92L595.7,1914.36L647.85,1914.36L699.99,1914.36L752.13,1914.36L804.28,1823.28L856.42,1823.28L908.57,1823.28L960.71,1823.28L1012.86,1930.59L1065,1930.59L1117.15,1930.59L1169.29,1930.59" fill="none" stroke="#C15C17" stroke-width="1.15" stroke-linejoin="round"/><path d="M334.98,1939.5L387.12,1937.52L439.27,1937.52L491.41,1937.52L543.56,1937.52L595.7,1928.22L647.85,1928.22L699.99,1928.22L752.13,1928.22L804.28,1939.5L856.42,1939.5" fill="none" stroke="#890F02" stroke-width="1.15" stroke-linejoin="round"/><path d="M595.7,1938.5L647.85,1938.5L699.99,1938.5L752.13,1937.92L804.28,1741.9L856.42,1908.62L908.57,1937.92L960.71,1938.5L1012.86,1938.5L1065,1938.5L1117.15,1741.9L1169.29,1741.9" fill="none" stroke="#FADE2A" stroke-width="1.15" stroke-linejoin="round"/><path d="M22.11,1940.5L74.26,1940.5L126.4,1940.5L178.54,1940.5L230.69,1940.5L282.83,1940.5L334.98,1940.5L387.12,1940.5L439.27,1940.5L491.41,1940.5L543.56,1940.5L595.7,1940.5L647.85,1940.5L699.99,1940.5L752.13,1940.5L804.28,1940.5L856.42,1940.5L908.57,1940.5L960.71,1940.5L1012.86,1940.5L1065,1940.5L1117.15,1940.5L1169.29,1940.5" fill="none" stroke="#0A437C" stroke-width="1.15" stroke-linejoin="round"/></g><rect x="29" y="1976.6" width="14" height="4" rx="2" fill="#73BF69"/><text x="51" y="1982.9" textLength="66.5" lengthAdjust="spacing">arc-metrics</text><rect x="128" y="1976.6" width="14" height="4" rx="2" fill="#F2CC0C"/><text x="150" y="1982.9" textLength="66.5" lengthAdjust="spacing">arc-metrics</text><rect x="227" y="1976.6" width="14" height="4" rx="2" fill="#8AB8FF"/><text x="249" y="1982.9" textLength="66.5" lengthAdjust="spacing">arc-metrics</text><rect x="325.5" y="1976.6" width="14" height="4" rx="2" fill="#FF780A"/><text x="347.5" y="1982.9" textLength="66.5" lengthAdjust="spacing">arc-metrics</text><rect x="424.5" y="1976.6" width="14" height="4" rx="2" fill="#F2495C"/><text x="446.5" y="1982.9" textLength="176.5" lengthAdjust="spacing">kubernetes-service-endpoints</text><rect x="634" y="1976.6" width="14" height="4" rx="2" fill="#5794F2"/><text x="656" y="1982.9" textLength="175.5" lengthAdjust="spacing">kubernetes-service-endpoints</text><rect x="842" y="1976.6" width="14" height="4" rx="2" fill="#B877D9"/><text x="864" y="1982.9" textLength="176" lengthAdjust="spacing">kubernetes-service-endpoints</text><rect x="1050.5" y="1976.6" width="14" height="4" rx="2" fill="#705DA0"/><text x="1072.5" y="1982.9" textLength="99" lengthAdjust="spacing">kubernetes-pods</text><rect x="29" y="1999.6" width="14" height="4" rx="2" fill="#37872D"/><text x="51" y="2005.9" textLength="106" lengthAdjust="spacing">kubernetes-nodes</text><rect x="168" y="1999.6" width="14" height="4" rx="2" fill="#FADE2A"/><text x="190" y="2005.9" textLength="161" lengthAdjust="spacing">kubernetes-nodes-cadvisor</text><rect x="361" y="1999.6" width="14" height="4" rx="2" fill="#447EBC"/><text x="383" y="2005.9" textLength="175.5" lengthAdjust="spacing">kubernetes-service-endpoints</text><rect x="569.5" y="1999.6" width="14" height="4" rx="2" fill="#C15C17"/><text x="591.5" y="2005.9" textLength="132" lengthAdjust="spacing">kubernetes-apiservers</text><rect x="733.5" y="1999.6" width="14" height="4" rx="2" fill="#890F02"/><text x="755.5" y="2005.9" textLength="68.5" lengthAdjust="spacing">prometheus</text><rect x="834.5" y="1999.6" width="14" height="4" rx="2" fill="#0A437C"/><text x="856.5" y="2005.9" textLength="151.5" lengthAdjust="spacing">prometheus-pushgateway</text><g fill="none" stroke="rgba(204,204,220,0.68)"><circle cx="158.5" cy="1669.9" r="6.1" stroke-width="1.3"/><path d="M158.5,1669.5 v3.4 M158.5,1666.6 v1.3" stroke-width="1.25" stroke="rgba(204,204,220,0.55)"/></g><path d="M1195.1,2022.7 L1204,2014.3 M1199.8,2022.7 L1203.8,2019.3" stroke="rgba(204,204,220,0.36)" stroke-width="1.2" fill="none"/></svg><div class="pt" style="letter-spacing:0.57px">Scrape Duration</div></div>
</div>
</body></html>
